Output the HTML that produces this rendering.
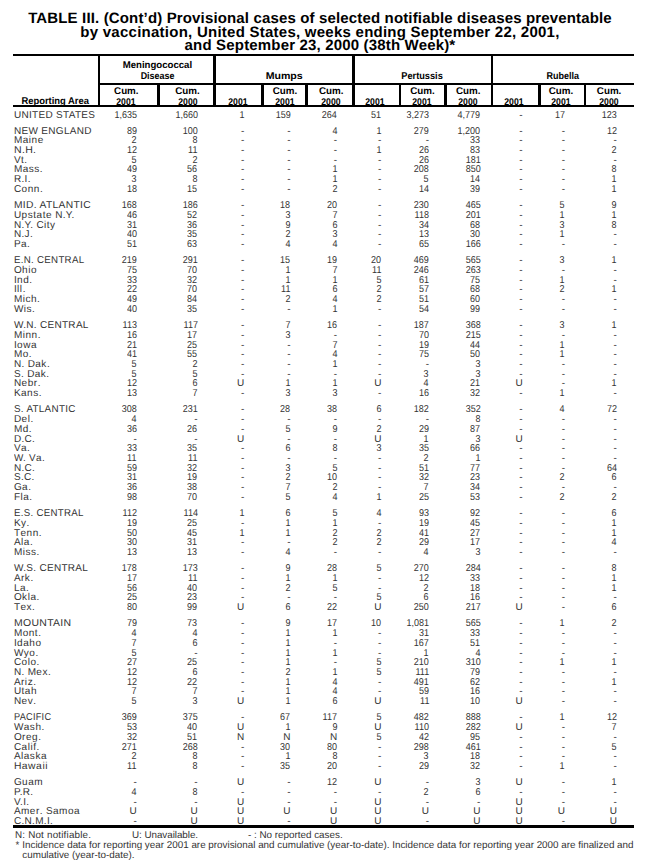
<!DOCTYPE html>
<html><head><meta charset="utf-8"><style>
html,body{margin:0;padding:0;background:#fff;}
body{width:647px;height:862px;position:relative;overflow:hidden;font-family:"Liberation Sans",sans-serif;color:#000;text-rendering:geometricPrecision;}
.t{position:absolute;white-space:nowrap;color:#333;}
.r{position:absolute;background:#000;}
.lc{letter-spacing:0.55px;}
</style></head><body>
<div class="t" style="left:0;width:640px;text-align:center;top:11px;font-size:15px;line-height:15px;font-weight:700;color:#000;letter-spacing:0.15px">TABLE III. (Cont&#8217;d) Provisional cases of selected notifiable diseases preventable</div>
<div class="t" style="left:0;width:640px;text-align:center;top:25px;font-size:15px;line-height:15px;font-weight:700;color:#000;letter-spacing:0.25px">by vaccination, United States, weeks ending September 22, 2001,</div>
<div class="t" style="left:0;width:640px;text-align:center;top:38px;font-size:15px;line-height:15px;font-weight:700;color:#000;letter-spacing:0.17px">and September 23, 2000 (38th Week)*</div>
<div class="r" style="left:13px;top:54px;width:621px;height:2px"></div>
<div class="r" style="left:99px;top:83px;width:535px;height:2px"></div>
<div class="r" style="left:13px;top:105px;width:621px;height:2px"></div>
<div class="r" style="left:98px;top:54px;width:2px;height:53px"></div>
<div class="r" style="left:157px;top:83px;width:3px;height:24px"></div>
<div class="r" style="left:213px;top:54px;width:3px;height:53px"></div>
<div class="r" style="left:261px;top:83px;width:3px;height:24px"></div>
<div class="r" style="left:305px;top:83px;width:3px;height:24px"></div>
<div class="r" style="left:352px;top:54px;width:3px;height:53px"></div>
<div class="r" style="left:399px;top:83px;width:2px;height:24px"></div>
<div class="r" style="left:444px;top:83px;width:3px;height:24px"></div>
<div class="r" style="left:491px;top:54px;width:2px;height:53px"></div>
<div class="r" style="left:538px;top:83px;width:3px;height:24px"></div>
<div class="r" style="left:584px;top:83px;width:2px;height:24px"></div>
<div class="t" style="top:97px;font-size:9.8px;line-height:9.8px;font-weight:700;color:#000;left:-94.8px;width:300px;text-align:center;"><span style="display:inline-block;transform:scaleX(0.96)">Reporting Area</span></div>
<div class="t" style="top:61px;font-size:9.8px;line-height:9.8px;font-weight:700;color:#000;left:7.199999999999989px;width:300px;text-align:center;"><span style="display:inline-block;transform:scaleX(0.98)">Meningococcal</span></div>
<div class="t" style="top:72px;font-size:9.8px;line-height:9.8px;font-weight:700;color:#000;left:7.5px;width:300px;text-align:center;"><span style="display:inline-block;transform:scaleX(0.91)">Disease</span></div>
<div class="t" style="top:72px;font-size:9.8px;line-height:9.8px;font-weight:700;color:#000;left:134.3px;width:300px;text-align:center;"><span style="display:inline-block;transform:scaleX(1.08)">Mumps</span></div>
<div class="t" style="top:72px;font-size:9.8px;line-height:9.8px;font-weight:700;color:#000;left:271.8px;width:300px;text-align:center;"><span style="display:inline-block;transform:scaleX(0.94)">Pertussis</span></div>
<div class="t" style="top:72px;font-size:9.8px;line-height:9.8px;font-weight:700;color:#000;left:412.79999999999995px;width:300px;text-align:center;"><span style="display:inline-block;transform:scaleX(0.92)">Rubella</span></div>
<div class="t" style="top:87px;font-size:9.8px;line-height:9.8px;font-weight:700;color:#000;left:-23.700000000000003px;width:300px;text-align:center;">Cum.</div>
<div class="t" style="top:98px;font-size:9.8px;line-height:9.8px;font-weight:700;color:#000;left:-23.700000000000003px;width:300px;text-align:center;"><span style="display:inline-block;transform:scaleX(0.885)">2001</span></div>
<div class="t" style="top:87px;font-size:9.8px;line-height:9.8px;font-weight:700;color:#000;left:37.5px;width:300px;text-align:center;">Cum.</div>
<div class="t" style="top:98px;font-size:9.8px;line-height:9.8px;font-weight:700;color:#000;left:37.5px;width:300px;text-align:center;"><span style="display:inline-block;transform:scaleX(0.885)">2000</span></div>
<div class="t" style="top:98px;font-size:9.8px;line-height:9.8px;font-weight:700;color:#000;left:88.1px;width:300px;text-align:center;"><span style="display:inline-block;transform:scaleX(0.885)">2001</span></div>
<div class="t" style="top:87px;font-size:9.8px;line-height:9.8px;font-weight:700;color:#000;left:135px;width:300px;text-align:center;">Cum.</div>
<div class="t" style="top:98px;font-size:9.8px;line-height:9.8px;font-weight:700;color:#000;left:135px;width:300px;text-align:center;"><span style="display:inline-block;transform:scaleX(0.885)">2001</span></div>
<div class="t" style="top:87px;font-size:9.8px;line-height:9.8px;font-weight:700;color:#000;left:181.3px;width:300px;text-align:center;">Cum.</div>
<div class="t" style="top:98px;font-size:9.8px;line-height:9.8px;font-weight:700;color:#000;left:181.3px;width:300px;text-align:center;"><span style="display:inline-block;transform:scaleX(0.885)">2000</span></div>
<div class="t" style="top:98px;font-size:9.8px;line-height:9.8px;font-weight:700;color:#000;left:224.8px;width:300px;text-align:center;"><span style="display:inline-block;transform:scaleX(0.885)">2001</span></div>
<div class="t" style="top:87px;font-size:9.8px;line-height:9.8px;font-weight:700;color:#000;left:272.4px;width:300px;text-align:center;">Cum.</div>
<div class="t" style="top:98px;font-size:9.8px;line-height:9.8px;font-weight:700;color:#000;left:272.4px;width:300px;text-align:center;"><span style="display:inline-block;transform:scaleX(0.885)">2001</span></div>
<div class="t" style="top:87px;font-size:9.8px;line-height:9.8px;font-weight:700;color:#000;left:318.2px;width:300px;text-align:center;">Cum.</div>
<div class="t" style="top:98px;font-size:9.8px;line-height:9.8px;font-weight:700;color:#000;left:318.2px;width:300px;text-align:center;"><span style="display:inline-block;transform:scaleX(0.885)">2000</span></div>
<div class="t" style="top:98px;font-size:9.8px;line-height:9.8px;font-weight:700;color:#000;left:364px;width:300px;text-align:center;"><span style="display:inline-block;transform:scaleX(0.885)">2001</span></div>
<div class="t" style="top:87px;font-size:9.8px;line-height:9.8px;font-weight:700;color:#000;left:411px;width:300px;text-align:center;">Cum.</div>
<div class="t" style="top:98px;font-size:9.8px;line-height:9.8px;font-weight:700;color:#000;left:411px;width:300px;text-align:center;"><span style="display:inline-block;transform:scaleX(0.885)">2001</span></div>
<div class="t" style="top:87px;font-size:9.8px;line-height:9.8px;font-weight:700;color:#000;left:459.1px;width:300px;text-align:center;">Cum.</div>
<div class="t" style="top:98px;font-size:9.8px;line-height:9.8px;font-weight:700;color:#000;left:459.1px;width:300px;text-align:center;"><span style="display:inline-block;transform:scaleX(0.885)">2000</span></div>
<div class="t" style="top:111px;font-size:10px;line-height:10px;letter-spacing:0.3px;left:14px;">UNITED STATES</div>
<div class="t" style="top:111px;font-size:10px;line-height:10px;right:510.2px;transform:scaleX(0.9);transform-origin:100% 0;">1,635</div>
<div class="t" style="top:111px;font-size:10px;line-height:10px;right:449.4px;transform:scaleX(0.9);transform-origin:100% 0;">1,660</div>
<div class="t" style="top:111px;font-size:10px;line-height:10px;right:402.7px;transform:scaleX(0.9);transform-origin:100% 0;">1</div>
<div class="t" style="top:111px;font-size:10px;line-height:10px;right:356.5px;transform:scaleX(0.9);transform-origin:100% 0;">159</div>
<div class="t" style="top:111px;font-size:10px;line-height:10px;right:309.9px;transform:scaleX(0.9);transform-origin:100% 0;">264</div>
<div class="t" style="top:111px;font-size:10px;line-height:10px;right:265.6px;transform:scaleX(0.9);transform-origin:100% 0;">51</div>
<div class="t" style="top:111px;font-size:10px;line-height:10px;right:218.0px;transform:scaleX(0.9);transform-origin:100% 0;">3,273</div>
<div class="t" style="top:111px;font-size:10px;line-height:10px;right:166.60000000000002px;transform:scaleX(0.9);transform-origin:100% 0;">4,779</div>
<div class="t" style="top:111px;font-size:10px;line-height:10px;right:124.39999999999998px;">-</div>
<div class="t" style="top:111px;font-size:10px;line-height:10px;right:82.0px;transform:scaleX(0.9);transform-origin:100% 0;">17</div>
<div class="t" style="top:111px;font-size:10px;line-height:10px;right:30.100000000000023px;transform:scaleX(0.9);transform-origin:100% 0;">123</div>
<div class="t" style="top:127px;font-size:10px;line-height:10px;letter-spacing:0.3px;left:14px;">NEW ENGLAND</div>
<div class="t" style="top:127px;font-size:10px;line-height:10px;right:510.2px;transform:scaleX(0.9);transform-origin:100% 0;">89</div>
<div class="t" style="top:127px;font-size:10px;line-height:10px;right:449.4px;transform:scaleX(0.9);transform-origin:100% 0;">100</div>
<div class="t" style="top:127px;font-size:10px;line-height:10px;right:402.7px;">-</div>
<div class="t" style="top:127px;font-size:10px;line-height:10px;right:356.5px;">-</div>
<div class="t" style="top:127px;font-size:10px;line-height:10px;right:309.9px;transform:scaleX(0.9);transform-origin:100% 0;">4</div>
<div class="t" style="top:127px;font-size:10px;line-height:10px;right:265.6px;transform:scaleX(0.9);transform-origin:100% 0;">1</div>
<div class="t" style="top:127px;font-size:10px;line-height:10px;right:218.0px;transform:scaleX(0.9);transform-origin:100% 0;">279</div>
<div class="t" style="top:127px;font-size:10px;line-height:10px;right:166.60000000000002px;transform:scaleX(0.9);transform-origin:100% 0;">1,200</div>
<div class="t" style="top:127px;font-size:10px;line-height:10px;right:124.39999999999998px;">-</div>
<div class="t" style="top:127px;font-size:10px;line-height:10px;right:82.0px;">-</div>
<div class="t" style="top:127px;font-size:10px;line-height:10px;right:30.100000000000023px;transform:scaleX(0.9);transform-origin:100% 0;">12</div>
<div class="t" style="top:136px;font-size:10px;line-height:10px;letter-spacing:0.3px;left:14px;">M<span class="lc">aine</span></div>
<div class="t" style="top:136px;font-size:10px;line-height:10px;right:510.2px;transform:scaleX(0.9);transform-origin:100% 0;">2</div>
<div class="t" style="top:136px;font-size:10px;line-height:10px;right:449.4px;transform:scaleX(0.9);transform-origin:100% 0;">8</div>
<div class="t" style="top:136px;font-size:10px;line-height:10px;right:402.7px;">-</div>
<div class="t" style="top:136px;font-size:10px;line-height:10px;right:356.5px;">-</div>
<div class="t" style="top:136px;font-size:10px;line-height:10px;right:309.9px;">-</div>
<div class="t" style="top:136px;font-size:10px;line-height:10px;right:265.6px;">-</div>
<div class="t" style="top:136px;font-size:10px;line-height:10px;right:218.0px;">-</div>
<div class="t" style="top:136px;font-size:10px;line-height:10px;right:166.60000000000002px;transform:scaleX(0.9);transform-origin:100% 0;">33</div>
<div class="t" style="top:136px;font-size:10px;line-height:10px;right:124.39999999999998px;">-</div>
<div class="t" style="top:136px;font-size:10px;line-height:10px;right:82.0px;">-</div>
<div class="t" style="top:136px;font-size:10px;line-height:10px;right:30.100000000000023px;">-</div>
<div class="t" style="top:146px;font-size:10px;line-height:10px;letter-spacing:0.3px;left:14px;transform:scaleX(1.0541);transform-origin:0 0;">N.H.</div>
<div class="t" style="top:146px;font-size:10px;line-height:10px;right:510.2px;transform:scaleX(0.9);transform-origin:100% 0;">12</div>
<div class="t" style="top:146px;font-size:10px;line-height:10px;right:449.4px;transform:scaleX(0.9);transform-origin:100% 0;">11</div>
<div class="t" style="top:146px;font-size:10px;line-height:10px;right:402.7px;">-</div>
<div class="t" style="top:146px;font-size:10px;line-height:10px;right:356.5px;">-</div>
<div class="t" style="top:146px;font-size:10px;line-height:10px;right:309.9px;">-</div>
<div class="t" style="top:146px;font-size:10px;line-height:10px;right:265.6px;transform:scaleX(0.9);transform-origin:100% 0;">1</div>
<div class="t" style="top:146px;font-size:10px;line-height:10px;right:218.0px;transform:scaleX(0.9);transform-origin:100% 0;">26</div>
<div class="t" style="top:146px;font-size:10px;line-height:10px;right:166.60000000000002px;transform:scaleX(0.9);transform-origin:100% 0;">83</div>
<div class="t" style="top:146px;font-size:10px;line-height:10px;right:124.39999999999998px;">-</div>
<div class="t" style="top:146px;font-size:10px;line-height:10px;right:82.0px;">-</div>
<div class="t" style="top:146px;font-size:10px;line-height:10px;right:30.100000000000023px;transform:scaleX(0.9);transform-origin:100% 0;">2</div>
<div class="t" style="top:156px;font-size:10px;line-height:10px;letter-spacing:0.3px;left:14px;">V<span class="lc">t</span>.</div>
<div class="t" style="top:156px;font-size:10px;line-height:10px;right:510.2px;transform:scaleX(0.9);transform-origin:100% 0;">5</div>
<div class="t" style="top:156px;font-size:10px;line-height:10px;right:449.4px;transform:scaleX(0.9);transform-origin:100% 0;">2</div>
<div class="t" style="top:156px;font-size:10px;line-height:10px;right:402.7px;">-</div>
<div class="t" style="top:156px;font-size:10px;line-height:10px;right:356.5px;">-</div>
<div class="t" style="top:156px;font-size:10px;line-height:10px;right:309.9px;">-</div>
<div class="t" style="top:156px;font-size:10px;line-height:10px;right:265.6px;">-</div>
<div class="t" style="top:156px;font-size:10px;line-height:10px;right:218.0px;transform:scaleX(0.9);transform-origin:100% 0;">26</div>
<div class="t" style="top:156px;font-size:10px;line-height:10px;right:166.60000000000002px;transform:scaleX(0.9);transform-origin:100% 0;">181</div>
<div class="t" style="top:156px;font-size:10px;line-height:10px;right:124.39999999999998px;">-</div>
<div class="t" style="top:156px;font-size:10px;line-height:10px;right:82.0px;">-</div>
<div class="t" style="top:156px;font-size:10px;line-height:10px;right:30.100000000000023px;">-</div>
<div class="t" style="top:165px;font-size:10px;line-height:10px;letter-spacing:0.3px;left:14px;">M<span class="lc">ass</span>.</div>
<div class="t" style="top:165px;font-size:10px;line-height:10px;right:510.2px;transform:scaleX(0.9);transform-origin:100% 0;">49</div>
<div class="t" style="top:165px;font-size:10px;line-height:10px;right:449.4px;transform:scaleX(0.9);transform-origin:100% 0;">56</div>
<div class="t" style="top:165px;font-size:10px;line-height:10px;right:402.7px;">-</div>
<div class="t" style="top:165px;font-size:10px;line-height:10px;right:356.5px;">-</div>
<div class="t" style="top:165px;font-size:10px;line-height:10px;right:309.9px;transform:scaleX(0.9);transform-origin:100% 0;">1</div>
<div class="t" style="top:165px;font-size:10px;line-height:10px;right:265.6px;">-</div>
<div class="t" style="top:165px;font-size:10px;line-height:10px;right:218.0px;transform:scaleX(0.9);transform-origin:100% 0;">208</div>
<div class="t" style="top:165px;font-size:10px;line-height:10px;right:166.60000000000002px;transform:scaleX(0.9);transform-origin:100% 0;">850</div>
<div class="t" style="top:165px;font-size:10px;line-height:10px;right:124.39999999999998px;">-</div>
<div class="t" style="top:165px;font-size:10px;line-height:10px;right:82.0px;">-</div>
<div class="t" style="top:165px;font-size:10px;line-height:10px;right:30.100000000000023px;transform:scaleX(0.9);transform-origin:100% 0;">8</div>
<div class="t" style="top:175px;font-size:10px;line-height:10px;letter-spacing:0.3px;left:14px;">R.I.</div>
<div class="t" style="top:175px;font-size:10px;line-height:10px;right:510.2px;transform:scaleX(0.9);transform-origin:100% 0;">3</div>
<div class="t" style="top:175px;font-size:10px;line-height:10px;right:449.4px;transform:scaleX(0.9);transform-origin:100% 0;">8</div>
<div class="t" style="top:175px;font-size:10px;line-height:10px;right:402.7px;">-</div>
<div class="t" style="top:175px;font-size:10px;line-height:10px;right:356.5px;">-</div>
<div class="t" style="top:175px;font-size:10px;line-height:10px;right:309.9px;transform:scaleX(0.9);transform-origin:100% 0;">1</div>
<div class="t" style="top:175px;font-size:10px;line-height:10px;right:265.6px;">-</div>
<div class="t" style="top:175px;font-size:10px;line-height:10px;right:218.0px;transform:scaleX(0.9);transform-origin:100% 0;">5</div>
<div class="t" style="top:175px;font-size:10px;line-height:10px;right:166.60000000000002px;transform:scaleX(0.9);transform-origin:100% 0;">14</div>
<div class="t" style="top:175px;font-size:10px;line-height:10px;right:124.39999999999998px;">-</div>
<div class="t" style="top:175px;font-size:10px;line-height:10px;right:82.0px;">-</div>
<div class="t" style="top:175px;font-size:10px;line-height:10px;right:30.100000000000023px;transform:scaleX(0.9);transform-origin:100% 0;">1</div>
<div class="t" style="top:185px;font-size:10px;line-height:10px;letter-spacing:0.3px;left:14px;">C<span class="lc">onn</span>.</div>
<div class="t" style="top:185px;font-size:10px;line-height:10px;right:510.2px;transform:scaleX(0.9);transform-origin:100% 0;">18</div>
<div class="t" style="top:185px;font-size:10px;line-height:10px;right:449.4px;transform:scaleX(0.9);transform-origin:100% 0;">15</div>
<div class="t" style="top:185px;font-size:10px;line-height:10px;right:402.7px;">-</div>
<div class="t" style="top:185px;font-size:10px;line-height:10px;right:356.5px;">-</div>
<div class="t" style="top:185px;font-size:10px;line-height:10px;right:309.9px;transform:scaleX(0.9);transform-origin:100% 0;">2</div>
<div class="t" style="top:185px;font-size:10px;line-height:10px;right:265.6px;">-</div>
<div class="t" style="top:185px;font-size:10px;line-height:10px;right:218.0px;transform:scaleX(0.9);transform-origin:100% 0;">14</div>
<div class="t" style="top:185px;font-size:10px;line-height:10px;right:166.60000000000002px;transform:scaleX(0.9);transform-origin:100% 0;">39</div>
<div class="t" style="top:185px;font-size:10px;line-height:10px;right:124.39999999999998px;">-</div>
<div class="t" style="top:185px;font-size:10px;line-height:10px;right:82.0px;">-</div>
<div class="t" style="top:185px;font-size:10px;line-height:10px;right:30.100000000000023px;transform:scaleX(0.9);transform-origin:100% 0;">1</div>
<div class="t" style="top:201px;font-size:10px;line-height:10px;letter-spacing:0.3px;left:14px;transform:scaleX(1.0276);transform-origin:0 0;">MID. ATLANTIC</div>
<div class="t" style="top:201px;font-size:10px;line-height:10px;right:510.2px;transform:scaleX(0.9);transform-origin:100% 0;">168</div>
<div class="t" style="top:201px;font-size:10px;line-height:10px;right:449.4px;transform:scaleX(0.9);transform-origin:100% 0;">186</div>
<div class="t" style="top:201px;font-size:10px;line-height:10px;right:402.7px;">-</div>
<div class="t" style="top:201px;font-size:10px;line-height:10px;right:356.5px;transform:scaleX(0.9);transform-origin:100% 0;">18</div>
<div class="t" style="top:201px;font-size:10px;line-height:10px;right:309.9px;transform:scaleX(0.9);transform-origin:100% 0;">20</div>
<div class="t" style="top:201px;font-size:10px;line-height:10px;right:265.6px;">-</div>
<div class="t" style="top:201px;font-size:10px;line-height:10px;right:218.0px;transform:scaleX(0.9);transform-origin:100% 0;">230</div>
<div class="t" style="top:201px;font-size:10px;line-height:10px;right:166.60000000000002px;transform:scaleX(0.9);transform-origin:100% 0;">465</div>
<div class="t" style="top:201px;font-size:10px;line-height:10px;right:124.39999999999998px;">-</div>
<div class="t" style="top:201px;font-size:10px;line-height:10px;right:82.0px;transform:scaleX(0.9);transform-origin:100% 0;">5</div>
<div class="t" style="top:201px;font-size:10px;line-height:10px;right:30.100000000000023px;transform:scaleX(0.9);transform-origin:100% 0;">9</div>
<div class="t" style="top:211px;font-size:10px;line-height:10px;letter-spacing:0.3px;left:14px;">U<span class="lc">pstate</span> N.Y.</div>
<div class="t" style="top:211px;font-size:10px;line-height:10px;right:510.2px;transform:scaleX(0.9);transform-origin:100% 0;">46</div>
<div class="t" style="top:211px;font-size:10px;line-height:10px;right:449.4px;transform:scaleX(0.9);transform-origin:100% 0;">52</div>
<div class="t" style="top:211px;font-size:10px;line-height:10px;right:402.7px;">-</div>
<div class="t" style="top:211px;font-size:10px;line-height:10px;right:356.5px;transform:scaleX(0.9);transform-origin:100% 0;">3</div>
<div class="t" style="top:211px;font-size:10px;line-height:10px;right:309.9px;transform:scaleX(0.9);transform-origin:100% 0;">7</div>
<div class="t" style="top:211px;font-size:10px;line-height:10px;right:265.6px;">-</div>
<div class="t" style="top:211px;font-size:10px;line-height:10px;right:218.0px;transform:scaleX(0.9);transform-origin:100% 0;">118</div>
<div class="t" style="top:211px;font-size:10px;line-height:10px;right:166.60000000000002px;transform:scaleX(0.9);transform-origin:100% 0;">201</div>
<div class="t" style="top:211px;font-size:10px;line-height:10px;right:124.39999999999998px;">-</div>
<div class="t" style="top:211px;font-size:10px;line-height:10px;right:82.0px;transform:scaleX(0.9);transform-origin:100% 0;">1</div>
<div class="t" style="top:211px;font-size:10px;line-height:10px;right:30.100000000000023px;transform:scaleX(0.9);transform-origin:100% 0;">1</div>
<div class="t" style="top:221px;font-size:10px;line-height:10px;letter-spacing:0.3px;left:14px;">N.Y. C<span class="lc">ity</span></div>
<div class="t" style="top:221px;font-size:10px;line-height:10px;right:510.2px;transform:scaleX(0.9);transform-origin:100% 0;">31</div>
<div class="t" style="top:221px;font-size:10px;line-height:10px;right:449.4px;transform:scaleX(0.9);transform-origin:100% 0;">36</div>
<div class="t" style="top:221px;font-size:10px;line-height:10px;right:402.7px;">-</div>
<div class="t" style="top:221px;font-size:10px;line-height:10px;right:356.5px;transform:scaleX(0.9);transform-origin:100% 0;">9</div>
<div class="t" style="top:221px;font-size:10px;line-height:10px;right:309.9px;transform:scaleX(0.9);transform-origin:100% 0;">6</div>
<div class="t" style="top:221px;font-size:10px;line-height:10px;right:265.6px;">-</div>
<div class="t" style="top:221px;font-size:10px;line-height:10px;right:218.0px;transform:scaleX(0.9);transform-origin:100% 0;">34</div>
<div class="t" style="top:221px;font-size:10px;line-height:10px;right:166.60000000000002px;transform:scaleX(0.9);transform-origin:100% 0;">68</div>
<div class="t" style="top:221px;font-size:10px;line-height:10px;right:124.39999999999998px;">-</div>
<div class="t" style="top:221px;font-size:10px;line-height:10px;right:82.0px;transform:scaleX(0.9);transform-origin:100% 0;">3</div>
<div class="t" style="top:221px;font-size:10px;line-height:10px;right:30.100000000000023px;transform:scaleX(0.9);transform-origin:100% 0;">8</div>
<div class="t" style="top:230px;font-size:10px;line-height:10px;letter-spacing:0.3px;left:14px;">N.J.</div>
<div class="t" style="top:230px;font-size:10px;line-height:10px;right:510.2px;transform:scaleX(0.9);transform-origin:100% 0;">40</div>
<div class="t" style="top:230px;font-size:10px;line-height:10px;right:449.4px;transform:scaleX(0.9);transform-origin:100% 0;">35</div>
<div class="t" style="top:230px;font-size:10px;line-height:10px;right:402.7px;">-</div>
<div class="t" style="top:230px;font-size:10px;line-height:10px;right:356.5px;transform:scaleX(0.9);transform-origin:100% 0;">2</div>
<div class="t" style="top:230px;font-size:10px;line-height:10px;right:309.9px;transform:scaleX(0.9);transform-origin:100% 0;">3</div>
<div class="t" style="top:230px;font-size:10px;line-height:10px;right:265.6px;">-</div>
<div class="t" style="top:230px;font-size:10px;line-height:10px;right:218.0px;transform:scaleX(0.9);transform-origin:100% 0;">13</div>
<div class="t" style="top:230px;font-size:10px;line-height:10px;right:166.60000000000002px;transform:scaleX(0.9);transform-origin:100% 0;">30</div>
<div class="t" style="top:230px;font-size:10px;line-height:10px;right:124.39999999999998px;">-</div>
<div class="t" style="top:230px;font-size:10px;line-height:10px;right:82.0px;transform:scaleX(0.9);transform-origin:100% 0;">1</div>
<div class="t" style="top:230px;font-size:10px;line-height:10px;right:30.100000000000023px;">-</div>
<div class="t" style="top:240px;font-size:10px;line-height:10px;letter-spacing:0.3px;left:14px;">P<span class="lc">a</span>.</div>
<div class="t" style="top:240px;font-size:10px;line-height:10px;right:510.2px;transform:scaleX(0.9);transform-origin:100% 0;">51</div>
<div class="t" style="top:240px;font-size:10px;line-height:10px;right:449.4px;transform:scaleX(0.9);transform-origin:100% 0;">63</div>
<div class="t" style="top:240px;font-size:10px;line-height:10px;right:402.7px;">-</div>
<div class="t" style="top:240px;font-size:10px;line-height:10px;right:356.5px;transform:scaleX(0.9);transform-origin:100% 0;">4</div>
<div class="t" style="top:240px;font-size:10px;line-height:10px;right:309.9px;transform:scaleX(0.9);transform-origin:100% 0;">4</div>
<div class="t" style="top:240px;font-size:10px;line-height:10px;right:265.6px;">-</div>
<div class="t" style="top:240px;font-size:10px;line-height:10px;right:218.0px;transform:scaleX(0.9);transform-origin:100% 0;">65</div>
<div class="t" style="top:240px;font-size:10px;line-height:10px;right:166.60000000000002px;transform:scaleX(0.9);transform-origin:100% 0;">166</div>
<div class="t" style="top:240px;font-size:10px;line-height:10px;right:124.39999999999998px;">-</div>
<div class="t" style="top:240px;font-size:10px;line-height:10px;right:82.0px;">-</div>
<div class="t" style="top:240px;font-size:10px;line-height:10px;right:30.100000000000023px;">-</div>
<div class="t" style="top:256px;font-size:10px;line-height:10px;letter-spacing:0.3px;left:14px;transform:scaleX(0.9702);transform-origin:0 0;">E.N. CENTRAL</div>
<div class="t" style="top:256px;font-size:10px;line-height:10px;right:510.2px;transform:scaleX(0.9);transform-origin:100% 0;">219</div>
<div class="t" style="top:256px;font-size:10px;line-height:10px;right:449.4px;transform:scaleX(0.9);transform-origin:100% 0;">291</div>
<div class="t" style="top:256px;font-size:10px;line-height:10px;right:402.7px;">-</div>
<div class="t" style="top:256px;font-size:10px;line-height:10px;right:356.5px;transform:scaleX(0.9);transform-origin:100% 0;">15</div>
<div class="t" style="top:256px;font-size:10px;line-height:10px;right:309.9px;transform:scaleX(0.9);transform-origin:100% 0;">19</div>
<div class="t" style="top:256px;font-size:10px;line-height:10px;right:265.6px;transform:scaleX(0.9);transform-origin:100% 0;">20</div>
<div class="t" style="top:256px;font-size:10px;line-height:10px;right:218.0px;transform:scaleX(0.9);transform-origin:100% 0;">469</div>
<div class="t" style="top:256px;font-size:10px;line-height:10px;right:166.60000000000002px;transform:scaleX(0.9);transform-origin:100% 0;">565</div>
<div class="t" style="top:256px;font-size:10px;line-height:10px;right:124.39999999999998px;">-</div>
<div class="t" style="top:256px;font-size:10px;line-height:10px;right:82.0px;transform:scaleX(0.9);transform-origin:100% 0;">3</div>
<div class="t" style="top:256px;font-size:10px;line-height:10px;right:30.100000000000023px;transform:scaleX(0.9);transform-origin:100% 0;">1</div>
<div class="t" style="top:266px;font-size:10px;line-height:10px;letter-spacing:0.3px;left:14px;">O<span class="lc">hio</span></div>
<div class="t" style="top:266px;font-size:10px;line-height:10px;right:510.2px;transform:scaleX(0.9);transform-origin:100% 0;">75</div>
<div class="t" style="top:266px;font-size:10px;line-height:10px;right:449.4px;transform:scaleX(0.9);transform-origin:100% 0;">70</div>
<div class="t" style="top:266px;font-size:10px;line-height:10px;right:402.7px;">-</div>
<div class="t" style="top:266px;font-size:10px;line-height:10px;right:356.5px;transform:scaleX(0.9);transform-origin:100% 0;">1</div>
<div class="t" style="top:266px;font-size:10px;line-height:10px;right:309.9px;transform:scaleX(0.9);transform-origin:100% 0;">7</div>
<div class="t" style="top:266px;font-size:10px;line-height:10px;right:265.6px;transform:scaleX(0.9);transform-origin:100% 0;">11</div>
<div class="t" style="top:266px;font-size:10px;line-height:10px;right:218.0px;transform:scaleX(0.9);transform-origin:100% 0;">246</div>
<div class="t" style="top:266px;font-size:10px;line-height:10px;right:166.60000000000002px;transform:scaleX(0.9);transform-origin:100% 0;">263</div>
<div class="t" style="top:266px;font-size:10px;line-height:10px;right:124.39999999999998px;">-</div>
<div class="t" style="top:266px;font-size:10px;line-height:10px;right:82.0px;">-</div>
<div class="t" style="top:266px;font-size:10px;line-height:10px;right:30.100000000000023px;">-</div>
<div class="t" style="top:276px;font-size:10px;line-height:10px;letter-spacing:0.3px;left:14px;">I<span class="lc">nd</span>.</div>
<div class="t" style="top:276px;font-size:10px;line-height:10px;right:510.2px;transform:scaleX(0.9);transform-origin:100% 0;">33</div>
<div class="t" style="top:276px;font-size:10px;line-height:10px;right:449.4px;transform:scaleX(0.9);transform-origin:100% 0;">32</div>
<div class="t" style="top:276px;font-size:10px;line-height:10px;right:402.7px;">-</div>
<div class="t" style="top:276px;font-size:10px;line-height:10px;right:356.5px;transform:scaleX(0.9);transform-origin:100% 0;">1</div>
<div class="t" style="top:276px;font-size:10px;line-height:10px;right:309.9px;transform:scaleX(0.9);transform-origin:100% 0;">1</div>
<div class="t" style="top:276px;font-size:10px;line-height:10px;right:265.6px;transform:scaleX(0.9);transform-origin:100% 0;">5</div>
<div class="t" style="top:276px;font-size:10px;line-height:10px;right:218.0px;transform:scaleX(0.9);transform-origin:100% 0;">61</div>
<div class="t" style="top:276px;font-size:10px;line-height:10px;right:166.60000000000002px;transform:scaleX(0.9);transform-origin:100% 0;">75</div>
<div class="t" style="top:276px;font-size:10px;line-height:10px;right:124.39999999999998px;">-</div>
<div class="t" style="top:276px;font-size:10px;line-height:10px;right:82.0px;transform:scaleX(0.9);transform-origin:100% 0;">1</div>
<div class="t" style="top:276px;font-size:10px;line-height:10px;right:30.100000000000023px;">-</div>
<div class="t" style="top:285px;font-size:10px;line-height:10px;letter-spacing:0.3px;left:14px;">I<span class="lc">ll</span>.</div>
<div class="t" style="top:285px;font-size:10px;line-height:10px;right:510.2px;transform:scaleX(0.9);transform-origin:100% 0;">22</div>
<div class="t" style="top:285px;font-size:10px;line-height:10px;right:449.4px;transform:scaleX(0.9);transform-origin:100% 0;">70</div>
<div class="t" style="top:285px;font-size:10px;line-height:10px;right:402.7px;">-</div>
<div class="t" style="top:285px;font-size:10px;line-height:10px;right:356.5px;transform:scaleX(0.9);transform-origin:100% 0;">11</div>
<div class="t" style="top:285px;font-size:10px;line-height:10px;right:309.9px;transform:scaleX(0.9);transform-origin:100% 0;">6</div>
<div class="t" style="top:285px;font-size:10px;line-height:10px;right:265.6px;transform:scaleX(0.9);transform-origin:100% 0;">2</div>
<div class="t" style="top:285px;font-size:10px;line-height:10px;right:218.0px;transform:scaleX(0.9);transform-origin:100% 0;">57</div>
<div class="t" style="top:285px;font-size:10px;line-height:10px;right:166.60000000000002px;transform:scaleX(0.9);transform-origin:100% 0;">68</div>
<div class="t" style="top:285px;font-size:10px;line-height:10px;right:124.39999999999998px;">-</div>
<div class="t" style="top:285px;font-size:10px;line-height:10px;right:82.0px;transform:scaleX(0.9);transform-origin:100% 0;">2</div>
<div class="t" style="top:285px;font-size:10px;line-height:10px;right:30.100000000000023px;transform:scaleX(0.9);transform-origin:100% 0;">1</div>
<div class="t" style="top:295px;font-size:10px;line-height:10px;letter-spacing:0.3px;left:14px;">M<span class="lc">ich</span>.</div>
<div class="t" style="top:295px;font-size:10px;line-height:10px;right:510.2px;transform:scaleX(0.9);transform-origin:100% 0;">49</div>
<div class="t" style="top:295px;font-size:10px;line-height:10px;right:449.4px;transform:scaleX(0.9);transform-origin:100% 0;">84</div>
<div class="t" style="top:295px;font-size:10px;line-height:10px;right:402.7px;">-</div>
<div class="t" style="top:295px;font-size:10px;line-height:10px;right:356.5px;transform:scaleX(0.9);transform-origin:100% 0;">2</div>
<div class="t" style="top:295px;font-size:10px;line-height:10px;right:309.9px;transform:scaleX(0.9);transform-origin:100% 0;">4</div>
<div class="t" style="top:295px;font-size:10px;line-height:10px;right:265.6px;transform:scaleX(0.9);transform-origin:100% 0;">2</div>
<div class="t" style="top:295px;font-size:10px;line-height:10px;right:218.0px;transform:scaleX(0.9);transform-origin:100% 0;">51</div>
<div class="t" style="top:295px;font-size:10px;line-height:10px;right:166.60000000000002px;transform:scaleX(0.9);transform-origin:100% 0;">60</div>
<div class="t" style="top:295px;font-size:10px;line-height:10px;right:124.39999999999998px;">-</div>
<div class="t" style="top:295px;font-size:10px;line-height:10px;right:82.0px;">-</div>
<div class="t" style="top:295px;font-size:10px;line-height:10px;right:30.100000000000023px;">-</div>
<div class="t" style="top:305px;font-size:10px;line-height:10px;letter-spacing:0.3px;left:14px;">W<span class="lc">is</span>.</div>
<div class="t" style="top:305px;font-size:10px;line-height:10px;right:510.2px;transform:scaleX(0.9);transform-origin:100% 0;">40</div>
<div class="t" style="top:305px;font-size:10px;line-height:10px;right:449.4px;transform:scaleX(0.9);transform-origin:100% 0;">35</div>
<div class="t" style="top:305px;font-size:10px;line-height:10px;right:402.7px;">-</div>
<div class="t" style="top:305px;font-size:10px;line-height:10px;right:356.5px;">-</div>
<div class="t" style="top:305px;font-size:10px;line-height:10px;right:309.9px;transform:scaleX(0.9);transform-origin:100% 0;">1</div>
<div class="t" style="top:305px;font-size:10px;line-height:10px;right:265.6px;">-</div>
<div class="t" style="top:305px;font-size:10px;line-height:10px;right:218.0px;transform:scaleX(0.9);transform-origin:100% 0;">54</div>
<div class="t" style="top:305px;font-size:10px;line-height:10px;right:166.60000000000002px;transform:scaleX(0.9);transform-origin:100% 0;">99</div>
<div class="t" style="top:305px;font-size:10px;line-height:10px;right:124.39999999999998px;">-</div>
<div class="t" style="top:305px;font-size:10px;line-height:10px;right:82.0px;">-</div>
<div class="t" style="top:305px;font-size:10px;line-height:10px;right:30.100000000000023px;">-</div>
<div class="t" style="top:321px;font-size:10px;line-height:10px;letter-spacing:0.3px;left:14px;">W.N. CENTRAL</div>
<div class="t" style="top:321px;font-size:10px;line-height:10px;right:510.2px;transform:scaleX(0.9);transform-origin:100% 0;">113</div>
<div class="t" style="top:321px;font-size:10px;line-height:10px;right:449.4px;transform:scaleX(0.9);transform-origin:100% 0;">117</div>
<div class="t" style="top:321px;font-size:10px;line-height:10px;right:402.7px;">-</div>
<div class="t" style="top:321px;font-size:10px;line-height:10px;right:356.5px;transform:scaleX(0.9);transform-origin:100% 0;">7</div>
<div class="t" style="top:321px;font-size:10px;line-height:10px;right:309.9px;transform:scaleX(0.9);transform-origin:100% 0;">16</div>
<div class="t" style="top:321px;font-size:10px;line-height:10px;right:265.6px;">-</div>
<div class="t" style="top:321px;font-size:10px;line-height:10px;right:218.0px;transform:scaleX(0.9);transform-origin:100% 0;">187</div>
<div class="t" style="top:321px;font-size:10px;line-height:10px;right:166.60000000000002px;transform:scaleX(0.9);transform-origin:100% 0;">368</div>
<div class="t" style="top:321px;font-size:10px;line-height:10px;right:124.39999999999998px;">-</div>
<div class="t" style="top:321px;font-size:10px;line-height:10px;right:82.0px;transform:scaleX(0.9);transform-origin:100% 0;">3</div>
<div class="t" style="top:321px;font-size:10px;line-height:10px;right:30.100000000000023px;transform:scaleX(0.9);transform-origin:100% 0;">1</div>
<div class="t" style="top:331px;font-size:10px;line-height:10px;letter-spacing:0.3px;left:14px;">M<span class="lc">inn</span>.</div>
<div class="t" style="top:331px;font-size:10px;line-height:10px;right:510.2px;transform:scaleX(0.9);transform-origin:100% 0;">16</div>
<div class="t" style="top:331px;font-size:10px;line-height:10px;right:449.4px;transform:scaleX(0.9);transform-origin:100% 0;">17</div>
<div class="t" style="top:331px;font-size:10px;line-height:10px;right:402.7px;">-</div>
<div class="t" style="top:331px;font-size:10px;line-height:10px;right:356.5px;transform:scaleX(0.9);transform-origin:100% 0;">3</div>
<div class="t" style="top:331px;font-size:10px;line-height:10px;right:309.9px;">-</div>
<div class="t" style="top:331px;font-size:10px;line-height:10px;right:265.6px;">-</div>
<div class="t" style="top:331px;font-size:10px;line-height:10px;right:218.0px;transform:scaleX(0.9);transform-origin:100% 0;">70</div>
<div class="t" style="top:331px;font-size:10px;line-height:10px;right:166.60000000000002px;transform:scaleX(0.9);transform-origin:100% 0;">215</div>
<div class="t" style="top:331px;font-size:10px;line-height:10px;right:124.39999999999998px;">-</div>
<div class="t" style="top:331px;font-size:10px;line-height:10px;right:82.0px;">-</div>
<div class="t" style="top:331px;font-size:10px;line-height:10px;right:30.100000000000023px;">-</div>
<div class="t" style="top:341px;font-size:10px;line-height:10px;letter-spacing:0.3px;left:14px;">I<span class="lc">owa</span></div>
<div class="t" style="top:341px;font-size:10px;line-height:10px;right:510.2px;transform:scaleX(0.9);transform-origin:100% 0;">21</div>
<div class="t" style="top:341px;font-size:10px;line-height:10px;right:449.4px;transform:scaleX(0.9);transform-origin:100% 0;">25</div>
<div class="t" style="top:341px;font-size:10px;line-height:10px;right:402.7px;">-</div>
<div class="t" style="top:341px;font-size:10px;line-height:10px;right:356.5px;">-</div>
<div class="t" style="top:341px;font-size:10px;line-height:10px;right:309.9px;transform:scaleX(0.9);transform-origin:100% 0;">7</div>
<div class="t" style="top:341px;font-size:10px;line-height:10px;right:265.6px;">-</div>
<div class="t" style="top:341px;font-size:10px;line-height:10px;right:218.0px;transform:scaleX(0.9);transform-origin:100% 0;">19</div>
<div class="t" style="top:341px;font-size:10px;line-height:10px;right:166.60000000000002px;transform:scaleX(0.9);transform-origin:100% 0;">44</div>
<div class="t" style="top:341px;font-size:10px;line-height:10px;right:124.39999999999998px;">-</div>
<div class="t" style="top:341px;font-size:10px;line-height:10px;right:82.0px;transform:scaleX(0.9);transform-origin:100% 0;">1</div>
<div class="t" style="top:341px;font-size:10px;line-height:10px;right:30.100000000000023px;">-</div>
<div class="t" style="top:350px;font-size:10px;line-height:10px;letter-spacing:0.3px;left:14px;">M<span class="lc">o</span>.</div>
<div class="t" style="top:350px;font-size:10px;line-height:10px;right:510.2px;transform:scaleX(0.9);transform-origin:100% 0;">41</div>
<div class="t" style="top:350px;font-size:10px;line-height:10px;right:449.4px;transform:scaleX(0.9);transform-origin:100% 0;">55</div>
<div class="t" style="top:350px;font-size:10px;line-height:10px;right:402.7px;">-</div>
<div class="t" style="top:350px;font-size:10px;line-height:10px;right:356.5px;">-</div>
<div class="t" style="top:350px;font-size:10px;line-height:10px;right:309.9px;transform:scaleX(0.9);transform-origin:100% 0;">4</div>
<div class="t" style="top:350px;font-size:10px;line-height:10px;right:265.6px;">-</div>
<div class="t" style="top:350px;font-size:10px;line-height:10px;right:218.0px;transform:scaleX(0.9);transform-origin:100% 0;">75</div>
<div class="t" style="top:350px;font-size:10px;line-height:10px;right:166.60000000000002px;transform:scaleX(0.9);transform-origin:100% 0;">50</div>
<div class="t" style="top:350px;font-size:10px;line-height:10px;right:124.39999999999998px;">-</div>
<div class="t" style="top:350px;font-size:10px;line-height:10px;right:82.0px;transform:scaleX(0.9);transform-origin:100% 0;">1</div>
<div class="t" style="top:350px;font-size:10px;line-height:10px;right:30.100000000000023px;">-</div>
<div class="t" style="top:360px;font-size:10px;line-height:10px;letter-spacing:0.3px;left:14px;">N. D<span class="lc">ak</span>.</div>
<div class="t" style="top:360px;font-size:10px;line-height:10px;right:510.2px;transform:scaleX(0.9);transform-origin:100% 0;">5</div>
<div class="t" style="top:360px;font-size:10px;line-height:10px;right:449.4px;transform:scaleX(0.9);transform-origin:100% 0;">2</div>
<div class="t" style="top:360px;font-size:10px;line-height:10px;right:402.7px;">-</div>
<div class="t" style="top:360px;font-size:10px;line-height:10px;right:356.5px;">-</div>
<div class="t" style="top:360px;font-size:10px;line-height:10px;right:309.9px;transform:scaleX(0.9);transform-origin:100% 0;">1</div>
<div class="t" style="top:360px;font-size:10px;line-height:10px;right:265.6px;">-</div>
<div class="t" style="top:360px;font-size:10px;line-height:10px;right:218.0px;">-</div>
<div class="t" style="top:360px;font-size:10px;line-height:10px;right:166.60000000000002px;transform:scaleX(0.9);transform-origin:100% 0;">3</div>
<div class="t" style="top:360px;font-size:10px;line-height:10px;right:124.39999999999998px;">-</div>
<div class="t" style="top:360px;font-size:10px;line-height:10px;right:82.0px;">-</div>
<div class="t" style="top:360px;font-size:10px;line-height:10px;right:30.100000000000023px;">-</div>
<div class="t" style="top:370px;font-size:10px;line-height:10px;letter-spacing:0.3px;left:14px;">S. D<span class="lc">ak</span>.</div>
<div class="t" style="top:370px;font-size:10px;line-height:10px;right:510.2px;transform:scaleX(0.9);transform-origin:100% 0;">5</div>
<div class="t" style="top:370px;font-size:10px;line-height:10px;right:449.4px;transform:scaleX(0.9);transform-origin:100% 0;">5</div>
<div class="t" style="top:370px;font-size:10px;line-height:10px;right:402.7px;">-</div>
<div class="t" style="top:370px;font-size:10px;line-height:10px;right:356.5px;">-</div>
<div class="t" style="top:370px;font-size:10px;line-height:10px;right:309.9px;">-</div>
<div class="t" style="top:370px;font-size:10px;line-height:10px;right:265.6px;">-</div>
<div class="t" style="top:370px;font-size:10px;line-height:10px;right:218.0px;transform:scaleX(0.9);transform-origin:100% 0;">3</div>
<div class="t" style="top:370px;font-size:10px;line-height:10px;right:166.60000000000002px;transform:scaleX(0.9);transform-origin:100% 0;">3</div>
<div class="t" style="top:370px;font-size:10px;line-height:10px;right:124.39999999999998px;">-</div>
<div class="t" style="top:370px;font-size:10px;line-height:10px;right:82.0px;">-</div>
<div class="t" style="top:370px;font-size:10px;line-height:10px;right:30.100000000000023px;">-</div>
<div class="t" style="top:379px;font-size:10px;line-height:10px;letter-spacing:0.3px;left:14px;">N<span class="lc">ebr</span>.</div>
<div class="t" style="top:379px;font-size:10px;line-height:10px;right:510.2px;transform:scaleX(0.9);transform-origin:100% 0;">12</div>
<div class="t" style="top:379px;font-size:10px;line-height:10px;right:449.4px;transform:scaleX(0.9);transform-origin:100% 0;">6</div>
<div class="t" style="top:379px;font-size:10px;line-height:10px;right:402.7px;">U</div>
<div class="t" style="top:379px;font-size:10px;line-height:10px;right:356.5px;transform:scaleX(0.9);transform-origin:100% 0;">1</div>
<div class="t" style="top:379px;font-size:10px;line-height:10px;right:309.9px;transform:scaleX(0.9);transform-origin:100% 0;">1</div>
<div class="t" style="top:379px;font-size:10px;line-height:10px;right:265.6px;">U</div>
<div class="t" style="top:379px;font-size:10px;line-height:10px;right:218.0px;transform:scaleX(0.9);transform-origin:100% 0;">4</div>
<div class="t" style="top:379px;font-size:10px;line-height:10px;right:166.60000000000002px;transform:scaleX(0.9);transform-origin:100% 0;">21</div>
<div class="t" style="top:379px;font-size:10px;line-height:10px;right:124.39999999999998px;">U</div>
<div class="t" style="top:379px;font-size:10px;line-height:10px;right:82.0px;">-</div>
<div class="t" style="top:379px;font-size:10px;line-height:10px;right:30.100000000000023px;transform:scaleX(0.9);transform-origin:100% 0;">1</div>
<div class="t" style="top:389px;font-size:10px;line-height:10px;letter-spacing:0.3px;left:14px;">K<span class="lc">ans</span>.</div>
<div class="t" style="top:389px;font-size:10px;line-height:10px;right:510.2px;transform:scaleX(0.9);transform-origin:100% 0;">13</div>
<div class="t" style="top:389px;font-size:10px;line-height:10px;right:449.4px;transform:scaleX(0.9);transform-origin:100% 0;">7</div>
<div class="t" style="top:389px;font-size:10px;line-height:10px;right:402.7px;">-</div>
<div class="t" style="top:389px;font-size:10px;line-height:10px;right:356.5px;transform:scaleX(0.9);transform-origin:100% 0;">3</div>
<div class="t" style="top:389px;font-size:10px;line-height:10px;right:309.9px;transform:scaleX(0.9);transform-origin:100% 0;">3</div>
<div class="t" style="top:389px;font-size:10px;line-height:10px;right:265.6px;">-</div>
<div class="t" style="top:389px;font-size:10px;line-height:10px;right:218.0px;transform:scaleX(0.9);transform-origin:100% 0;">16</div>
<div class="t" style="top:389px;font-size:10px;line-height:10px;right:166.60000000000002px;transform:scaleX(0.9);transform-origin:100% 0;">32</div>
<div class="t" style="top:389px;font-size:10px;line-height:10px;right:124.39999999999998px;">-</div>
<div class="t" style="top:389px;font-size:10px;line-height:10px;right:82.0px;transform:scaleX(0.9);transform-origin:100% 0;">1</div>
<div class="t" style="top:389px;font-size:10px;line-height:10px;right:30.100000000000023px;">-</div>
<div class="t" style="top:405px;font-size:10px;line-height:10px;letter-spacing:0.3px;left:14px;transform:scaleX(0.9851);transform-origin:0 0;">S. ATLANTIC</div>
<div class="t" style="top:405px;font-size:10px;line-height:10px;right:510.2px;transform:scaleX(0.9);transform-origin:100% 0;">308</div>
<div class="t" style="top:405px;font-size:10px;line-height:10px;right:449.4px;transform:scaleX(0.9);transform-origin:100% 0;">231</div>
<div class="t" style="top:405px;font-size:10px;line-height:10px;right:402.7px;">-</div>
<div class="t" style="top:405px;font-size:10px;line-height:10px;right:356.5px;transform:scaleX(0.9);transform-origin:100% 0;">28</div>
<div class="t" style="top:405px;font-size:10px;line-height:10px;right:309.9px;transform:scaleX(0.9);transform-origin:100% 0;">38</div>
<div class="t" style="top:405px;font-size:10px;line-height:10px;right:265.6px;transform:scaleX(0.9);transform-origin:100% 0;">6</div>
<div class="t" style="top:405px;font-size:10px;line-height:10px;right:218.0px;transform:scaleX(0.9);transform-origin:100% 0;">182</div>
<div class="t" style="top:405px;font-size:10px;line-height:10px;right:166.60000000000002px;transform:scaleX(0.9);transform-origin:100% 0;">352</div>
<div class="t" style="top:405px;font-size:10px;line-height:10px;right:124.39999999999998px;">-</div>
<div class="t" style="top:405px;font-size:10px;line-height:10px;right:82.0px;transform:scaleX(0.9);transform-origin:100% 0;">4</div>
<div class="t" style="top:405px;font-size:10px;line-height:10px;right:30.100000000000023px;transform:scaleX(0.9);transform-origin:100% 0;">72</div>
<div class="t" style="top:415px;font-size:10px;line-height:10px;letter-spacing:0.3px;left:14px;">D<span class="lc">el</span>.</div>
<div class="t" style="top:415px;font-size:10px;line-height:10px;right:510.2px;transform:scaleX(0.9);transform-origin:100% 0;">4</div>
<div class="t" style="top:415px;font-size:10px;line-height:10px;right:449.4px;">-</div>
<div class="t" style="top:415px;font-size:10px;line-height:10px;right:402.7px;">-</div>
<div class="t" style="top:415px;font-size:10px;line-height:10px;right:356.5px;">-</div>
<div class="t" style="top:415px;font-size:10px;line-height:10px;right:309.9px;">-</div>
<div class="t" style="top:415px;font-size:10px;line-height:10px;right:265.6px;">-</div>
<div class="t" style="top:415px;font-size:10px;line-height:10px;right:218.0px;">-</div>
<div class="t" style="top:415px;font-size:10px;line-height:10px;right:166.60000000000002px;transform:scaleX(0.9);transform-origin:100% 0;">8</div>
<div class="t" style="top:415px;font-size:10px;line-height:10px;right:124.39999999999998px;">-</div>
<div class="t" style="top:415px;font-size:10px;line-height:10px;right:82.0px;">-</div>
<div class="t" style="top:415px;font-size:10px;line-height:10px;right:30.100000000000023px;">-</div>
<div class="t" style="top:425px;font-size:10px;line-height:10px;letter-spacing:0.3px;left:14px;">M<span class="lc">d</span>.</div>
<div class="t" style="top:425px;font-size:10px;line-height:10px;right:510.2px;transform:scaleX(0.9);transform-origin:100% 0;">36</div>
<div class="t" style="top:425px;font-size:10px;line-height:10px;right:449.4px;transform:scaleX(0.9);transform-origin:100% 0;">26</div>
<div class="t" style="top:425px;font-size:10px;line-height:10px;right:402.7px;">-</div>
<div class="t" style="top:425px;font-size:10px;line-height:10px;right:356.5px;transform:scaleX(0.9);transform-origin:100% 0;">5</div>
<div class="t" style="top:425px;font-size:10px;line-height:10px;right:309.9px;transform:scaleX(0.9);transform-origin:100% 0;">9</div>
<div class="t" style="top:425px;font-size:10px;line-height:10px;right:265.6px;transform:scaleX(0.9);transform-origin:100% 0;">2</div>
<div class="t" style="top:425px;font-size:10px;line-height:10px;right:218.0px;transform:scaleX(0.9);transform-origin:100% 0;">29</div>
<div class="t" style="top:425px;font-size:10px;line-height:10px;right:166.60000000000002px;transform:scaleX(0.9);transform-origin:100% 0;">87</div>
<div class="t" style="top:425px;font-size:10px;line-height:10px;right:124.39999999999998px;">-</div>
<div class="t" style="top:425px;font-size:10px;line-height:10px;right:82.0px;">-</div>
<div class="t" style="top:425px;font-size:10px;line-height:10px;right:30.100000000000023px;">-</div>
<div class="t" style="top:435px;font-size:10px;line-height:10px;letter-spacing:0.3px;left:14px;">D.C.</div>
<div class="t" style="top:435px;font-size:10px;line-height:10px;right:510.2px;">-</div>
<div class="t" style="top:435px;font-size:10px;line-height:10px;right:449.4px;">-</div>
<div class="t" style="top:435px;font-size:10px;line-height:10px;right:402.7px;">U</div>
<div class="t" style="top:435px;font-size:10px;line-height:10px;right:356.5px;">-</div>
<div class="t" style="top:435px;font-size:10px;line-height:10px;right:309.9px;">-</div>
<div class="t" style="top:435px;font-size:10px;line-height:10px;right:265.6px;">U</div>
<div class="t" style="top:435px;font-size:10px;line-height:10px;right:218.0px;transform:scaleX(0.9);transform-origin:100% 0;">1</div>
<div class="t" style="top:435px;font-size:10px;line-height:10px;right:166.60000000000002px;transform:scaleX(0.9);transform-origin:100% 0;">3</div>
<div class="t" style="top:435px;font-size:10px;line-height:10px;right:124.39999999999998px;">U</div>
<div class="t" style="top:435px;font-size:10px;line-height:10px;right:82.0px;">-</div>
<div class="t" style="top:435px;font-size:10px;line-height:10px;right:30.100000000000023px;">-</div>
<div class="t" style="top:444px;font-size:10px;line-height:10px;letter-spacing:0.3px;left:14px;">V<span class="lc">a</span>.</div>
<div class="t" style="top:444px;font-size:10px;line-height:10px;right:510.2px;transform:scaleX(0.9);transform-origin:100% 0;">33</div>
<div class="t" style="top:444px;font-size:10px;line-height:10px;right:449.4px;transform:scaleX(0.9);transform-origin:100% 0;">35</div>
<div class="t" style="top:444px;font-size:10px;line-height:10px;right:402.7px;">-</div>
<div class="t" style="top:444px;font-size:10px;line-height:10px;right:356.5px;transform:scaleX(0.9);transform-origin:100% 0;">6</div>
<div class="t" style="top:444px;font-size:10px;line-height:10px;right:309.9px;transform:scaleX(0.9);transform-origin:100% 0;">8</div>
<div class="t" style="top:444px;font-size:10px;line-height:10px;right:265.6px;transform:scaleX(0.9);transform-origin:100% 0;">3</div>
<div class="t" style="top:444px;font-size:10px;line-height:10px;right:218.0px;transform:scaleX(0.9);transform-origin:100% 0;">35</div>
<div class="t" style="top:444px;font-size:10px;line-height:10px;right:166.60000000000002px;transform:scaleX(0.9);transform-origin:100% 0;">66</div>
<div class="t" style="top:444px;font-size:10px;line-height:10px;right:124.39999999999998px;">-</div>
<div class="t" style="top:444px;font-size:10px;line-height:10px;right:82.0px;">-</div>
<div class="t" style="top:444px;font-size:10px;line-height:10px;right:30.100000000000023px;">-</div>
<div class="t" style="top:454px;font-size:10px;line-height:10px;letter-spacing:0.3px;left:14px;transform:scaleX(0.9825);transform-origin:0 0;">W. V<span class="lc">a</span>.</div>
<div class="t" style="top:454px;font-size:10px;line-height:10px;right:510.2px;transform:scaleX(0.9);transform-origin:100% 0;">11</div>
<div class="t" style="top:454px;font-size:10px;line-height:10px;right:449.4px;transform:scaleX(0.9);transform-origin:100% 0;">11</div>
<div class="t" style="top:454px;font-size:10px;line-height:10px;right:402.7px;">-</div>
<div class="t" style="top:454px;font-size:10px;line-height:10px;right:356.5px;">-</div>
<div class="t" style="top:454px;font-size:10px;line-height:10px;right:309.9px;">-</div>
<div class="t" style="top:454px;font-size:10px;line-height:10px;right:265.6px;">-</div>
<div class="t" style="top:454px;font-size:10px;line-height:10px;right:218.0px;transform:scaleX(0.9);transform-origin:100% 0;">2</div>
<div class="t" style="top:454px;font-size:10px;line-height:10px;right:166.60000000000002px;transform:scaleX(0.9);transform-origin:100% 0;">1</div>
<div class="t" style="top:454px;font-size:10px;line-height:10px;right:124.39999999999998px;">-</div>
<div class="t" style="top:454px;font-size:10px;line-height:10px;right:82.0px;">-</div>
<div class="t" style="top:454px;font-size:10px;line-height:10px;right:30.100000000000023px;">-</div>
<div class="t" style="top:464px;font-size:10px;line-height:10px;letter-spacing:0.3px;left:14px;">N.C.</div>
<div class="t" style="top:464px;font-size:10px;line-height:10px;right:510.2px;transform:scaleX(0.9);transform-origin:100% 0;">59</div>
<div class="t" style="top:464px;font-size:10px;line-height:10px;right:449.4px;transform:scaleX(0.9);transform-origin:100% 0;">32</div>
<div class="t" style="top:464px;font-size:10px;line-height:10px;right:402.7px;">-</div>
<div class="t" style="top:464px;font-size:10px;line-height:10px;right:356.5px;transform:scaleX(0.9);transform-origin:100% 0;">3</div>
<div class="t" style="top:464px;font-size:10px;line-height:10px;right:309.9px;transform:scaleX(0.9);transform-origin:100% 0;">5</div>
<div class="t" style="top:464px;font-size:10px;line-height:10px;right:265.6px;">-</div>
<div class="t" style="top:464px;font-size:10px;line-height:10px;right:218.0px;transform:scaleX(0.9);transform-origin:100% 0;">51</div>
<div class="t" style="top:464px;font-size:10px;line-height:10px;right:166.60000000000002px;transform:scaleX(0.9);transform-origin:100% 0;">77</div>
<div class="t" style="top:464px;font-size:10px;line-height:10px;right:124.39999999999998px;">-</div>
<div class="t" style="top:464px;font-size:10px;line-height:10px;right:82.0px;">-</div>
<div class="t" style="top:464px;font-size:10px;line-height:10px;right:30.100000000000023px;transform:scaleX(0.9);transform-origin:100% 0;">64</div>
<div class="t" style="top:473px;font-size:10px;line-height:10px;letter-spacing:0.3px;left:14px;">S.C.</div>
<div class="t" style="top:473px;font-size:10px;line-height:10px;right:510.2px;transform:scaleX(0.9);transform-origin:100% 0;">31</div>
<div class="t" style="top:473px;font-size:10px;line-height:10px;right:449.4px;transform:scaleX(0.9);transform-origin:100% 0;">19</div>
<div class="t" style="top:473px;font-size:10px;line-height:10px;right:402.7px;">-</div>
<div class="t" style="top:473px;font-size:10px;line-height:10px;right:356.5px;transform:scaleX(0.9);transform-origin:100% 0;">2</div>
<div class="t" style="top:473px;font-size:10px;line-height:10px;right:309.9px;transform:scaleX(0.9);transform-origin:100% 0;">10</div>
<div class="t" style="top:473px;font-size:10px;line-height:10px;right:265.6px;">-</div>
<div class="t" style="top:473px;font-size:10px;line-height:10px;right:218.0px;transform:scaleX(0.9);transform-origin:100% 0;">32</div>
<div class="t" style="top:473px;font-size:10px;line-height:10px;right:166.60000000000002px;transform:scaleX(0.9);transform-origin:100% 0;">23</div>
<div class="t" style="top:473px;font-size:10px;line-height:10px;right:124.39999999999998px;">-</div>
<div class="t" style="top:473px;font-size:10px;line-height:10px;right:82.0px;transform:scaleX(0.9);transform-origin:100% 0;">2</div>
<div class="t" style="top:473px;font-size:10px;line-height:10px;right:30.100000000000023px;transform:scaleX(0.9);transform-origin:100% 0;">6</div>
<div class="t" style="top:483px;font-size:10px;line-height:10px;letter-spacing:0.3px;left:14px;">G<span class="lc">a</span>.</div>
<div class="t" style="top:483px;font-size:10px;line-height:10px;right:510.2px;transform:scaleX(0.9);transform-origin:100% 0;">36</div>
<div class="t" style="top:483px;font-size:10px;line-height:10px;right:449.4px;transform:scaleX(0.9);transform-origin:100% 0;">38</div>
<div class="t" style="top:483px;font-size:10px;line-height:10px;right:402.7px;">-</div>
<div class="t" style="top:483px;font-size:10px;line-height:10px;right:356.5px;transform:scaleX(0.9);transform-origin:100% 0;">7</div>
<div class="t" style="top:483px;font-size:10px;line-height:10px;right:309.9px;transform:scaleX(0.9);transform-origin:100% 0;">2</div>
<div class="t" style="top:483px;font-size:10px;line-height:10px;right:265.6px;">-</div>
<div class="t" style="top:483px;font-size:10px;line-height:10px;right:218.0px;transform:scaleX(0.9);transform-origin:100% 0;">7</div>
<div class="t" style="top:483px;font-size:10px;line-height:10px;right:166.60000000000002px;transform:scaleX(0.9);transform-origin:100% 0;">34</div>
<div class="t" style="top:483px;font-size:10px;line-height:10px;right:124.39999999999998px;">-</div>
<div class="t" style="top:483px;font-size:10px;line-height:10px;right:82.0px;">-</div>
<div class="t" style="top:483px;font-size:10px;line-height:10px;right:30.100000000000023px;">-</div>
<div class="t" style="top:493px;font-size:10px;line-height:10px;letter-spacing:0.3px;left:14px;">F<span class="lc">la</span>.</div>
<div class="t" style="top:493px;font-size:10px;line-height:10px;right:510.2px;transform:scaleX(0.9);transform-origin:100% 0;">98</div>
<div class="t" style="top:493px;font-size:10px;line-height:10px;right:449.4px;transform:scaleX(0.9);transform-origin:100% 0;">70</div>
<div class="t" style="top:493px;font-size:10px;line-height:10px;right:402.7px;">-</div>
<div class="t" style="top:493px;font-size:10px;line-height:10px;right:356.5px;transform:scaleX(0.9);transform-origin:100% 0;">5</div>
<div class="t" style="top:493px;font-size:10px;line-height:10px;right:309.9px;transform:scaleX(0.9);transform-origin:100% 0;">4</div>
<div class="t" style="top:493px;font-size:10px;line-height:10px;right:265.6px;transform:scaleX(0.9);transform-origin:100% 0;">1</div>
<div class="t" style="top:493px;font-size:10px;line-height:10px;right:218.0px;transform:scaleX(0.9);transform-origin:100% 0;">25</div>
<div class="t" style="top:493px;font-size:10px;line-height:10px;right:166.60000000000002px;transform:scaleX(0.9);transform-origin:100% 0;">53</div>
<div class="t" style="top:493px;font-size:10px;line-height:10px;right:124.39999999999998px;">-</div>
<div class="t" style="top:493px;font-size:10px;line-height:10px;right:82.0px;transform:scaleX(0.9);transform-origin:100% 0;">2</div>
<div class="t" style="top:493px;font-size:10px;line-height:10px;right:30.100000000000023px;transform:scaleX(0.9);transform-origin:100% 0;">2</div>
<div class="t" style="top:509px;font-size:10px;line-height:10px;letter-spacing:0.3px;left:14px;transform:scaleX(0.9669);transform-origin:0 0;">E.S. CENTRAL</div>
<div class="t" style="top:509px;font-size:10px;line-height:10px;right:510.2px;transform:scaleX(0.9);transform-origin:100% 0;">112</div>
<div class="t" style="top:509px;font-size:10px;line-height:10px;right:449.4px;transform:scaleX(0.9);transform-origin:100% 0;">114</div>
<div class="t" style="top:509px;font-size:10px;line-height:10px;right:402.7px;transform:scaleX(0.9);transform-origin:100% 0;">1</div>
<div class="t" style="top:509px;font-size:10px;line-height:10px;right:356.5px;transform:scaleX(0.9);transform-origin:100% 0;">6</div>
<div class="t" style="top:509px;font-size:10px;line-height:10px;right:309.9px;transform:scaleX(0.9);transform-origin:100% 0;">5</div>
<div class="t" style="top:509px;font-size:10px;line-height:10px;right:265.6px;transform:scaleX(0.9);transform-origin:100% 0;">4</div>
<div class="t" style="top:509px;font-size:10px;line-height:10px;right:218.0px;transform:scaleX(0.9);transform-origin:100% 0;">93</div>
<div class="t" style="top:509px;font-size:10px;line-height:10px;right:166.60000000000002px;transform:scaleX(0.9);transform-origin:100% 0;">92</div>
<div class="t" style="top:509px;font-size:10px;line-height:10px;right:124.39999999999998px;">-</div>
<div class="t" style="top:509px;font-size:10px;line-height:10px;right:82.0px;">-</div>
<div class="t" style="top:509px;font-size:10px;line-height:10px;right:30.100000000000023px;transform:scaleX(0.9);transform-origin:100% 0;">6</div>
<div class="t" style="top:519px;font-size:10px;line-height:10px;letter-spacing:0.3px;left:14px;">K<span class="lc">y</span>.</div>
<div class="t" style="top:519px;font-size:10px;line-height:10px;right:510.2px;transform:scaleX(0.9);transform-origin:100% 0;">19</div>
<div class="t" style="top:519px;font-size:10px;line-height:10px;right:449.4px;transform:scaleX(0.9);transform-origin:100% 0;">25</div>
<div class="t" style="top:519px;font-size:10px;line-height:10px;right:402.7px;">-</div>
<div class="t" style="top:519px;font-size:10px;line-height:10px;right:356.5px;transform:scaleX(0.9);transform-origin:100% 0;">1</div>
<div class="t" style="top:519px;font-size:10px;line-height:10px;right:309.9px;transform:scaleX(0.9);transform-origin:100% 0;">1</div>
<div class="t" style="top:519px;font-size:10px;line-height:10px;right:265.6px;">-</div>
<div class="t" style="top:519px;font-size:10px;line-height:10px;right:218.0px;transform:scaleX(0.9);transform-origin:100% 0;">19</div>
<div class="t" style="top:519px;font-size:10px;line-height:10px;right:166.60000000000002px;transform:scaleX(0.9);transform-origin:100% 0;">45</div>
<div class="t" style="top:519px;font-size:10px;line-height:10px;right:124.39999999999998px;">-</div>
<div class="t" style="top:519px;font-size:10px;line-height:10px;right:82.0px;">-</div>
<div class="t" style="top:519px;font-size:10px;line-height:10px;right:30.100000000000023px;transform:scaleX(0.9);transform-origin:100% 0;">1</div>
<div class="t" style="top:529px;font-size:10px;line-height:10px;letter-spacing:0.3px;left:14px;">T<span class="lc">enn</span>.</div>
<div class="t" style="top:529px;font-size:10px;line-height:10px;right:510.2px;transform:scaleX(0.9);transform-origin:100% 0;">50</div>
<div class="t" style="top:529px;font-size:10px;line-height:10px;right:449.4px;transform:scaleX(0.9);transform-origin:100% 0;">45</div>
<div class="t" style="top:529px;font-size:10px;line-height:10px;right:402.7px;transform:scaleX(0.9);transform-origin:100% 0;">1</div>
<div class="t" style="top:529px;font-size:10px;line-height:10px;right:356.5px;transform:scaleX(0.9);transform-origin:100% 0;">1</div>
<div class="t" style="top:529px;font-size:10px;line-height:10px;right:309.9px;transform:scaleX(0.9);transform-origin:100% 0;">2</div>
<div class="t" style="top:529px;font-size:10px;line-height:10px;right:265.6px;transform:scaleX(0.9);transform-origin:100% 0;">2</div>
<div class="t" style="top:529px;font-size:10px;line-height:10px;right:218.0px;transform:scaleX(0.9);transform-origin:100% 0;">41</div>
<div class="t" style="top:529px;font-size:10px;line-height:10px;right:166.60000000000002px;transform:scaleX(0.9);transform-origin:100% 0;">27</div>
<div class="t" style="top:529px;font-size:10px;line-height:10px;right:124.39999999999998px;">-</div>
<div class="t" style="top:529px;font-size:10px;line-height:10px;right:82.0px;">-</div>
<div class="t" style="top:529px;font-size:10px;line-height:10px;right:30.100000000000023px;transform:scaleX(0.9);transform-origin:100% 0;">1</div>
<div class="t" style="top:538px;font-size:10px;line-height:10px;letter-spacing:0.3px;left:14px;">A<span class="lc">la</span>.</div>
<div class="t" style="top:538px;font-size:10px;line-height:10px;right:510.2px;transform:scaleX(0.9);transform-origin:100% 0;">30</div>
<div class="t" style="top:538px;font-size:10px;line-height:10px;right:449.4px;transform:scaleX(0.9);transform-origin:100% 0;">31</div>
<div class="t" style="top:538px;font-size:10px;line-height:10px;right:402.7px;">-</div>
<div class="t" style="top:538px;font-size:10px;line-height:10px;right:356.5px;">-</div>
<div class="t" style="top:538px;font-size:10px;line-height:10px;right:309.9px;transform:scaleX(0.9);transform-origin:100% 0;">2</div>
<div class="t" style="top:538px;font-size:10px;line-height:10px;right:265.6px;transform:scaleX(0.9);transform-origin:100% 0;">2</div>
<div class="t" style="top:538px;font-size:10px;line-height:10px;right:218.0px;transform:scaleX(0.9);transform-origin:100% 0;">29</div>
<div class="t" style="top:538px;font-size:10px;line-height:10px;right:166.60000000000002px;transform:scaleX(0.9);transform-origin:100% 0;">17</div>
<div class="t" style="top:538px;font-size:10px;line-height:10px;right:124.39999999999998px;">-</div>
<div class="t" style="top:538px;font-size:10px;line-height:10px;right:82.0px;">-</div>
<div class="t" style="top:538px;font-size:10px;line-height:10px;right:30.100000000000023px;transform:scaleX(0.9);transform-origin:100% 0;">4</div>
<div class="t" style="top:548px;font-size:10px;line-height:10px;letter-spacing:0.3px;left:14px;">M<span class="lc">iss</span>.</div>
<div class="t" style="top:548px;font-size:10px;line-height:10px;right:510.2px;transform:scaleX(0.9);transform-origin:100% 0;">13</div>
<div class="t" style="top:548px;font-size:10px;line-height:10px;right:449.4px;transform:scaleX(0.9);transform-origin:100% 0;">13</div>
<div class="t" style="top:548px;font-size:10px;line-height:10px;right:402.7px;">-</div>
<div class="t" style="top:548px;font-size:10px;line-height:10px;right:356.5px;transform:scaleX(0.9);transform-origin:100% 0;">4</div>
<div class="t" style="top:548px;font-size:10px;line-height:10px;right:309.9px;">-</div>
<div class="t" style="top:548px;font-size:10px;line-height:10px;right:265.6px;">-</div>
<div class="t" style="top:548px;font-size:10px;line-height:10px;right:218.0px;transform:scaleX(0.9);transform-origin:100% 0;">4</div>
<div class="t" style="top:548px;font-size:10px;line-height:10px;right:166.60000000000002px;transform:scaleX(0.9);transform-origin:100% 0;">3</div>
<div class="t" style="top:548px;font-size:10px;line-height:10px;right:124.39999999999998px;">-</div>
<div class="t" style="top:548px;font-size:10px;line-height:10px;right:82.0px;">-</div>
<div class="t" style="top:548px;font-size:10px;line-height:10px;right:30.100000000000023px;">-</div>
<div class="t" style="top:564px;font-size:10px;line-height:10px;letter-spacing:0.3px;left:14px;">W.S. CENTRAL</div>
<div class="t" style="top:564px;font-size:10px;line-height:10px;right:510.2px;transform:scaleX(0.9);transform-origin:100% 0;">178</div>
<div class="t" style="top:564px;font-size:10px;line-height:10px;right:449.4px;transform:scaleX(0.9);transform-origin:100% 0;">173</div>
<div class="t" style="top:564px;font-size:10px;line-height:10px;right:402.7px;">-</div>
<div class="t" style="top:564px;font-size:10px;line-height:10px;right:356.5px;transform:scaleX(0.9);transform-origin:100% 0;">9</div>
<div class="t" style="top:564px;font-size:10px;line-height:10px;right:309.9px;transform:scaleX(0.9);transform-origin:100% 0;">28</div>
<div class="t" style="top:564px;font-size:10px;line-height:10px;right:265.6px;transform:scaleX(0.9);transform-origin:100% 0;">5</div>
<div class="t" style="top:564px;font-size:10px;line-height:10px;right:218.0px;transform:scaleX(0.9);transform-origin:100% 0;">270</div>
<div class="t" style="top:564px;font-size:10px;line-height:10px;right:166.60000000000002px;transform:scaleX(0.9);transform-origin:100% 0;">284</div>
<div class="t" style="top:564px;font-size:10px;line-height:10px;right:124.39999999999998px;">-</div>
<div class="t" style="top:564px;font-size:10px;line-height:10px;right:82.0px;">-</div>
<div class="t" style="top:564px;font-size:10px;line-height:10px;right:30.100000000000023px;transform:scaleX(0.9);transform-origin:100% 0;">8</div>
<div class="t" style="top:574px;font-size:10px;line-height:10px;letter-spacing:0.3px;left:14px;">A<span class="lc">rk</span>.</div>
<div class="t" style="top:574px;font-size:10px;line-height:10px;right:510.2px;transform:scaleX(0.9);transform-origin:100% 0;">17</div>
<div class="t" style="top:574px;font-size:10px;line-height:10px;right:449.4px;transform:scaleX(0.9);transform-origin:100% 0;">11</div>
<div class="t" style="top:574px;font-size:10px;line-height:10px;right:402.7px;">-</div>
<div class="t" style="top:574px;font-size:10px;line-height:10px;right:356.5px;transform:scaleX(0.9);transform-origin:100% 0;">1</div>
<div class="t" style="top:574px;font-size:10px;line-height:10px;right:309.9px;transform:scaleX(0.9);transform-origin:100% 0;">1</div>
<div class="t" style="top:574px;font-size:10px;line-height:10px;right:265.6px;">-</div>
<div class="t" style="top:574px;font-size:10px;line-height:10px;right:218.0px;transform:scaleX(0.9);transform-origin:100% 0;">12</div>
<div class="t" style="top:574px;font-size:10px;line-height:10px;right:166.60000000000002px;transform:scaleX(0.9);transform-origin:100% 0;">33</div>
<div class="t" style="top:574px;font-size:10px;line-height:10px;right:124.39999999999998px;">-</div>
<div class="t" style="top:574px;font-size:10px;line-height:10px;right:82.0px;">-</div>
<div class="t" style="top:574px;font-size:10px;line-height:10px;right:30.100000000000023px;transform:scaleX(0.9);transform-origin:100% 0;">1</div>
<div class="t" style="top:584px;font-size:10px;line-height:10px;letter-spacing:0.3px;left:14px;">L<span class="lc">a</span>.</div>
<div class="t" style="top:584px;font-size:10px;line-height:10px;right:510.2px;transform:scaleX(0.9);transform-origin:100% 0;">56</div>
<div class="t" style="top:584px;font-size:10px;line-height:10px;right:449.4px;transform:scaleX(0.9);transform-origin:100% 0;">40</div>
<div class="t" style="top:584px;font-size:10px;line-height:10px;right:402.7px;">-</div>
<div class="t" style="top:584px;font-size:10px;line-height:10px;right:356.5px;transform:scaleX(0.9);transform-origin:100% 0;">2</div>
<div class="t" style="top:584px;font-size:10px;line-height:10px;right:309.9px;transform:scaleX(0.9);transform-origin:100% 0;">5</div>
<div class="t" style="top:584px;font-size:10px;line-height:10px;right:265.6px;">-</div>
<div class="t" style="top:584px;font-size:10px;line-height:10px;right:218.0px;transform:scaleX(0.9);transform-origin:100% 0;">2</div>
<div class="t" style="top:584px;font-size:10px;line-height:10px;right:166.60000000000002px;transform:scaleX(0.9);transform-origin:100% 0;">18</div>
<div class="t" style="top:584px;font-size:10px;line-height:10px;right:124.39999999999998px;">-</div>
<div class="t" style="top:584px;font-size:10px;line-height:10px;right:82.0px;">-</div>
<div class="t" style="top:584px;font-size:10px;line-height:10px;right:30.100000000000023px;transform:scaleX(0.9);transform-origin:100% 0;">1</div>
<div class="t" style="top:593px;font-size:10px;line-height:10px;letter-spacing:0.3px;left:14px;">O<span class="lc">kla</span>.</div>
<div class="t" style="top:593px;font-size:10px;line-height:10px;right:510.2px;transform:scaleX(0.9);transform-origin:100% 0;">25</div>
<div class="t" style="top:593px;font-size:10px;line-height:10px;right:449.4px;transform:scaleX(0.9);transform-origin:100% 0;">23</div>
<div class="t" style="top:593px;font-size:10px;line-height:10px;right:402.7px;">-</div>
<div class="t" style="top:593px;font-size:10px;line-height:10px;right:356.5px;">-</div>
<div class="t" style="top:593px;font-size:10px;line-height:10px;right:309.9px;">-</div>
<div class="t" style="top:593px;font-size:10px;line-height:10px;right:265.6px;transform:scaleX(0.9);transform-origin:100% 0;">5</div>
<div class="t" style="top:593px;font-size:10px;line-height:10px;right:218.0px;transform:scaleX(0.9);transform-origin:100% 0;">6</div>
<div class="t" style="top:593px;font-size:10px;line-height:10px;right:166.60000000000002px;transform:scaleX(0.9);transform-origin:100% 0;">16</div>
<div class="t" style="top:593px;font-size:10px;line-height:10px;right:124.39999999999998px;">-</div>
<div class="t" style="top:593px;font-size:10px;line-height:10px;right:82.0px;">-</div>
<div class="t" style="top:593px;font-size:10px;line-height:10px;right:30.100000000000023px;">-</div>
<div class="t" style="top:603px;font-size:10px;line-height:10px;letter-spacing:0.3px;left:14px;">T<span class="lc">ex</span>.</div>
<div class="t" style="top:603px;font-size:10px;line-height:10px;right:510.2px;transform:scaleX(0.9);transform-origin:100% 0;">80</div>
<div class="t" style="top:603px;font-size:10px;line-height:10px;right:449.4px;transform:scaleX(0.9);transform-origin:100% 0;">99</div>
<div class="t" style="top:603px;font-size:10px;line-height:10px;right:402.7px;">U</div>
<div class="t" style="top:603px;font-size:10px;line-height:10px;right:356.5px;transform:scaleX(0.9);transform-origin:100% 0;">6</div>
<div class="t" style="top:603px;font-size:10px;line-height:10px;right:309.9px;transform:scaleX(0.9);transform-origin:100% 0;">22</div>
<div class="t" style="top:603px;font-size:10px;line-height:10px;right:265.6px;">U</div>
<div class="t" style="top:603px;font-size:10px;line-height:10px;right:218.0px;transform:scaleX(0.9);transform-origin:100% 0;">250</div>
<div class="t" style="top:603px;font-size:10px;line-height:10px;right:166.60000000000002px;transform:scaleX(0.9);transform-origin:100% 0;">217</div>
<div class="t" style="top:603px;font-size:10px;line-height:10px;right:124.39999999999998px;">U</div>
<div class="t" style="top:603px;font-size:10px;line-height:10px;right:82.0px;">-</div>
<div class="t" style="top:603px;font-size:10px;line-height:10px;right:30.100000000000023px;transform:scaleX(0.9);transform-origin:100% 0;">6</div>
<div class="t" style="top:619px;font-size:10px;line-height:10px;letter-spacing:0.3px;left:14px;transform:scaleX(1.0438);transform-origin:0 0;">MOUNTAIN</div>
<div class="t" style="top:619px;font-size:10px;line-height:10px;right:510.2px;transform:scaleX(0.9);transform-origin:100% 0;">79</div>
<div class="t" style="top:619px;font-size:10px;line-height:10px;right:449.4px;transform:scaleX(0.9);transform-origin:100% 0;">73</div>
<div class="t" style="top:619px;font-size:10px;line-height:10px;right:402.7px;">-</div>
<div class="t" style="top:619px;font-size:10px;line-height:10px;right:356.5px;transform:scaleX(0.9);transform-origin:100% 0;">9</div>
<div class="t" style="top:619px;font-size:10px;line-height:10px;right:309.9px;transform:scaleX(0.9);transform-origin:100% 0;">17</div>
<div class="t" style="top:619px;font-size:10px;line-height:10px;right:265.6px;transform:scaleX(0.9);transform-origin:100% 0;">10</div>
<div class="t" style="top:619px;font-size:10px;line-height:10px;right:218.0px;transform:scaleX(0.9);transform-origin:100% 0;">1,081</div>
<div class="t" style="top:619px;font-size:10px;line-height:10px;right:166.60000000000002px;transform:scaleX(0.9);transform-origin:100% 0;">565</div>
<div class="t" style="top:619px;font-size:10px;line-height:10px;right:124.39999999999998px;">-</div>
<div class="t" style="top:619px;font-size:10px;line-height:10px;right:82.0px;transform:scaleX(0.9);transform-origin:100% 0;">1</div>
<div class="t" style="top:619px;font-size:10px;line-height:10px;right:30.100000000000023px;transform:scaleX(0.9);transform-origin:100% 0;">2</div>
<div class="t" style="top:629px;font-size:10px;line-height:10px;letter-spacing:0.3px;left:14px;">M<span class="lc">ont</span>.</div>
<div class="t" style="top:629px;font-size:10px;line-height:10px;right:510.2px;transform:scaleX(0.9);transform-origin:100% 0;">4</div>
<div class="t" style="top:629px;font-size:10px;line-height:10px;right:449.4px;transform:scaleX(0.9);transform-origin:100% 0;">4</div>
<div class="t" style="top:629px;font-size:10px;line-height:10px;right:402.7px;">-</div>
<div class="t" style="top:629px;font-size:10px;line-height:10px;right:356.5px;transform:scaleX(0.9);transform-origin:100% 0;">1</div>
<div class="t" style="top:629px;font-size:10px;line-height:10px;right:309.9px;transform:scaleX(0.9);transform-origin:100% 0;">1</div>
<div class="t" style="top:629px;font-size:10px;line-height:10px;right:265.6px;">-</div>
<div class="t" style="top:629px;font-size:10px;line-height:10px;right:218.0px;transform:scaleX(0.9);transform-origin:100% 0;">31</div>
<div class="t" style="top:629px;font-size:10px;line-height:10px;right:166.60000000000002px;transform:scaleX(0.9);transform-origin:100% 0;">33</div>
<div class="t" style="top:629px;font-size:10px;line-height:10px;right:124.39999999999998px;">-</div>
<div class="t" style="top:629px;font-size:10px;line-height:10px;right:82.0px;">-</div>
<div class="t" style="top:629px;font-size:10px;line-height:10px;right:30.100000000000023px;">-</div>
<div class="t" style="top:639px;font-size:10px;line-height:10px;letter-spacing:0.3px;left:14px;">I<span class="lc">daho</span></div>
<div class="t" style="top:639px;font-size:10px;line-height:10px;right:510.2px;transform:scaleX(0.9);transform-origin:100% 0;">7</div>
<div class="t" style="top:639px;font-size:10px;line-height:10px;right:449.4px;transform:scaleX(0.9);transform-origin:100% 0;">6</div>
<div class="t" style="top:639px;font-size:10px;line-height:10px;right:402.7px;">-</div>
<div class="t" style="top:639px;font-size:10px;line-height:10px;right:356.5px;transform:scaleX(0.9);transform-origin:100% 0;">1</div>
<div class="t" style="top:639px;font-size:10px;line-height:10px;right:309.9px;">-</div>
<div class="t" style="top:639px;font-size:10px;line-height:10px;right:265.6px;">-</div>
<div class="t" style="top:639px;font-size:10px;line-height:10px;right:218.0px;transform:scaleX(0.9);transform-origin:100% 0;">167</div>
<div class="t" style="top:639px;font-size:10px;line-height:10px;right:166.60000000000002px;transform:scaleX(0.9);transform-origin:100% 0;">51</div>
<div class="t" style="top:639px;font-size:10px;line-height:10px;right:124.39999999999998px;">-</div>
<div class="t" style="top:639px;font-size:10px;line-height:10px;right:82.0px;">-</div>
<div class="t" style="top:639px;font-size:10px;line-height:10px;right:30.100000000000023px;">-</div>
<div class="t" style="top:649px;font-size:10px;line-height:10px;letter-spacing:0.3px;left:14px;">W<span class="lc">yo</span>.</div>
<div class="t" style="top:649px;font-size:10px;line-height:10px;right:510.2px;transform:scaleX(0.9);transform-origin:100% 0;">5</div>
<div class="t" style="top:649px;font-size:10px;line-height:10px;right:449.4px;">-</div>
<div class="t" style="top:649px;font-size:10px;line-height:10px;right:402.7px;">-</div>
<div class="t" style="top:649px;font-size:10px;line-height:10px;right:356.5px;transform:scaleX(0.9);transform-origin:100% 0;">1</div>
<div class="t" style="top:649px;font-size:10px;line-height:10px;right:309.9px;transform:scaleX(0.9);transform-origin:100% 0;">1</div>
<div class="t" style="top:649px;font-size:10px;line-height:10px;right:265.6px;">-</div>
<div class="t" style="top:649px;font-size:10px;line-height:10px;right:218.0px;transform:scaleX(0.9);transform-origin:100% 0;">1</div>
<div class="t" style="top:649px;font-size:10px;line-height:10px;right:166.60000000000002px;transform:scaleX(0.9);transform-origin:100% 0;">4</div>
<div class="t" style="top:649px;font-size:10px;line-height:10px;right:124.39999999999998px;">-</div>
<div class="t" style="top:649px;font-size:10px;line-height:10px;right:82.0px;">-</div>
<div class="t" style="top:649px;font-size:10px;line-height:10px;right:30.100000000000023px;">-</div>
<div class="t" style="top:658px;font-size:10px;line-height:10px;letter-spacing:0.3px;left:14px;">C<span class="lc">olo</span>.</div>
<div class="t" style="top:658px;font-size:10px;line-height:10px;right:510.2px;transform:scaleX(0.9);transform-origin:100% 0;">27</div>
<div class="t" style="top:658px;font-size:10px;line-height:10px;right:449.4px;transform:scaleX(0.9);transform-origin:100% 0;">25</div>
<div class="t" style="top:658px;font-size:10px;line-height:10px;right:402.7px;">-</div>
<div class="t" style="top:658px;font-size:10px;line-height:10px;right:356.5px;transform:scaleX(0.9);transform-origin:100% 0;">1</div>
<div class="t" style="top:658px;font-size:10px;line-height:10px;right:309.9px;">-</div>
<div class="t" style="top:658px;font-size:10px;line-height:10px;right:265.6px;transform:scaleX(0.9);transform-origin:100% 0;">5</div>
<div class="t" style="top:658px;font-size:10px;line-height:10px;right:218.0px;transform:scaleX(0.9);transform-origin:100% 0;">210</div>
<div class="t" style="top:658px;font-size:10px;line-height:10px;right:166.60000000000002px;transform:scaleX(0.9);transform-origin:100% 0;">310</div>
<div class="t" style="top:658px;font-size:10px;line-height:10px;right:124.39999999999998px;">-</div>
<div class="t" style="top:658px;font-size:10px;line-height:10px;right:82.0px;transform:scaleX(0.9);transform-origin:100% 0;">1</div>
<div class="t" style="top:658px;font-size:10px;line-height:10px;right:30.100000000000023px;transform:scaleX(0.9);transform-origin:100% 0;">1</div>
<div class="t" style="top:668px;font-size:10px;line-height:10px;letter-spacing:0.3px;left:14px;">N. M<span class="lc">ex</span>.</div>
<div class="t" style="top:668px;font-size:10px;line-height:10px;right:510.2px;transform:scaleX(0.9);transform-origin:100% 0;">12</div>
<div class="t" style="top:668px;font-size:10px;line-height:10px;right:449.4px;transform:scaleX(0.9);transform-origin:100% 0;">6</div>
<div class="t" style="top:668px;font-size:10px;line-height:10px;right:402.7px;">-</div>
<div class="t" style="top:668px;font-size:10px;line-height:10px;right:356.5px;transform:scaleX(0.9);transform-origin:100% 0;">2</div>
<div class="t" style="top:668px;font-size:10px;line-height:10px;right:309.9px;transform:scaleX(0.9);transform-origin:100% 0;">1</div>
<div class="t" style="top:668px;font-size:10px;line-height:10px;right:265.6px;transform:scaleX(0.9);transform-origin:100% 0;">5</div>
<div class="t" style="top:668px;font-size:10px;line-height:10px;right:218.0px;transform:scaleX(0.9);transform-origin:100% 0;">111</div>
<div class="t" style="top:668px;font-size:10px;line-height:10px;right:166.60000000000002px;transform:scaleX(0.9);transform-origin:100% 0;">79</div>
<div class="t" style="top:668px;font-size:10px;line-height:10px;right:124.39999999999998px;">-</div>
<div class="t" style="top:668px;font-size:10px;line-height:10px;right:82.0px;">-</div>
<div class="t" style="top:668px;font-size:10px;line-height:10px;right:30.100000000000023px;">-</div>
<div class="t" style="top:678px;font-size:10px;line-height:10px;letter-spacing:0.3px;left:14px;">A<span class="lc">riz</span>.</div>
<div class="t" style="top:678px;font-size:10px;line-height:10px;right:510.2px;transform:scaleX(0.9);transform-origin:100% 0;">12</div>
<div class="t" style="top:678px;font-size:10px;line-height:10px;right:449.4px;transform:scaleX(0.9);transform-origin:100% 0;">22</div>
<div class="t" style="top:678px;font-size:10px;line-height:10px;right:402.7px;">-</div>
<div class="t" style="top:678px;font-size:10px;line-height:10px;right:356.5px;transform:scaleX(0.9);transform-origin:100% 0;">1</div>
<div class="t" style="top:678px;font-size:10px;line-height:10px;right:309.9px;transform:scaleX(0.9);transform-origin:100% 0;">4</div>
<div class="t" style="top:678px;font-size:10px;line-height:10px;right:265.6px;">-</div>
<div class="t" style="top:678px;font-size:10px;line-height:10px;right:218.0px;transform:scaleX(0.9);transform-origin:100% 0;">491</div>
<div class="t" style="top:678px;font-size:10px;line-height:10px;right:166.60000000000002px;transform:scaleX(0.9);transform-origin:100% 0;">62</div>
<div class="t" style="top:678px;font-size:10px;line-height:10px;right:124.39999999999998px;">-</div>
<div class="t" style="top:678px;font-size:10px;line-height:10px;right:82.0px;">-</div>
<div class="t" style="top:678px;font-size:10px;line-height:10px;right:30.100000000000023px;transform:scaleX(0.9);transform-origin:100% 0;">1</div>
<div class="t" style="top:687px;font-size:10px;line-height:10px;letter-spacing:0.3px;left:14px;">U<span class="lc">tah</span></div>
<div class="t" style="top:687px;font-size:10px;line-height:10px;right:510.2px;transform:scaleX(0.9);transform-origin:100% 0;">7</div>
<div class="t" style="top:687px;font-size:10px;line-height:10px;right:449.4px;transform:scaleX(0.9);transform-origin:100% 0;">7</div>
<div class="t" style="top:687px;font-size:10px;line-height:10px;right:402.7px;">-</div>
<div class="t" style="top:687px;font-size:10px;line-height:10px;right:356.5px;transform:scaleX(0.9);transform-origin:100% 0;">1</div>
<div class="t" style="top:687px;font-size:10px;line-height:10px;right:309.9px;transform:scaleX(0.9);transform-origin:100% 0;">4</div>
<div class="t" style="top:687px;font-size:10px;line-height:10px;right:265.6px;">-</div>
<div class="t" style="top:687px;font-size:10px;line-height:10px;right:218.0px;transform:scaleX(0.9);transform-origin:100% 0;">59</div>
<div class="t" style="top:687px;font-size:10px;line-height:10px;right:166.60000000000002px;transform:scaleX(0.9);transform-origin:100% 0;">16</div>
<div class="t" style="top:687px;font-size:10px;line-height:10px;right:124.39999999999998px;">-</div>
<div class="t" style="top:687px;font-size:10px;line-height:10px;right:82.0px;">-</div>
<div class="t" style="top:687px;font-size:10px;line-height:10px;right:30.100000000000023px;">-</div>
<div class="t" style="top:697px;font-size:10px;line-height:10px;letter-spacing:0.3px;left:14px;">N<span class="lc">ev</span>.</div>
<div class="t" style="top:697px;font-size:10px;line-height:10px;right:510.2px;transform:scaleX(0.9);transform-origin:100% 0;">5</div>
<div class="t" style="top:697px;font-size:10px;line-height:10px;right:449.4px;transform:scaleX(0.9);transform-origin:100% 0;">3</div>
<div class="t" style="top:697px;font-size:10px;line-height:10px;right:402.7px;">U</div>
<div class="t" style="top:697px;font-size:10px;line-height:10px;right:356.5px;transform:scaleX(0.9);transform-origin:100% 0;">1</div>
<div class="t" style="top:697px;font-size:10px;line-height:10px;right:309.9px;transform:scaleX(0.9);transform-origin:100% 0;">6</div>
<div class="t" style="top:697px;font-size:10px;line-height:10px;right:265.6px;">U</div>
<div class="t" style="top:697px;font-size:10px;line-height:10px;right:218.0px;transform:scaleX(0.9);transform-origin:100% 0;">11</div>
<div class="t" style="top:697px;font-size:10px;line-height:10px;right:166.60000000000002px;transform:scaleX(0.9);transform-origin:100% 0;">10</div>
<div class="t" style="top:697px;font-size:10px;line-height:10px;right:124.39999999999998px;">U</div>
<div class="t" style="top:697px;font-size:10px;line-height:10px;right:82.0px;">-</div>
<div class="t" style="top:697px;font-size:10px;line-height:10px;right:30.100000000000023px;">-</div>
<div class="t" style="top:713px;font-size:10px;line-height:10px;letter-spacing:0.3px;left:14px;transform:scaleX(0.9143);transform-origin:0 0;">PACIFIC</div>
<div class="t" style="top:713px;font-size:10px;line-height:10px;right:510.2px;transform:scaleX(0.9);transform-origin:100% 0;">369</div>
<div class="t" style="top:713px;font-size:10px;line-height:10px;right:449.4px;transform:scaleX(0.9);transform-origin:100% 0;">375</div>
<div class="t" style="top:713px;font-size:10px;line-height:10px;right:402.7px;">-</div>
<div class="t" style="top:713px;font-size:10px;line-height:10px;right:356.5px;transform:scaleX(0.9);transform-origin:100% 0;">67</div>
<div class="t" style="top:713px;font-size:10px;line-height:10px;right:309.9px;transform:scaleX(0.9);transform-origin:100% 0;">117</div>
<div class="t" style="top:713px;font-size:10px;line-height:10px;right:265.6px;transform:scaleX(0.9);transform-origin:100% 0;">5</div>
<div class="t" style="top:713px;font-size:10px;line-height:10px;right:218.0px;transform:scaleX(0.9);transform-origin:100% 0;">482</div>
<div class="t" style="top:713px;font-size:10px;line-height:10px;right:166.60000000000002px;transform:scaleX(0.9);transform-origin:100% 0;">888</div>
<div class="t" style="top:713px;font-size:10px;line-height:10px;right:124.39999999999998px;">-</div>
<div class="t" style="top:713px;font-size:10px;line-height:10px;right:82.0px;transform:scaleX(0.9);transform-origin:100% 0;">1</div>
<div class="t" style="top:713px;font-size:10px;line-height:10px;right:30.100000000000023px;transform:scaleX(0.9);transform-origin:100% 0;">12</div>
<div class="t" style="top:723px;font-size:10px;line-height:10px;letter-spacing:0.3px;left:14px;">W<span class="lc">ash</span>.</div>
<div class="t" style="top:723px;font-size:10px;line-height:10px;right:510.2px;transform:scaleX(0.9);transform-origin:100% 0;">53</div>
<div class="t" style="top:723px;font-size:10px;line-height:10px;right:449.4px;transform:scaleX(0.9);transform-origin:100% 0;">40</div>
<div class="t" style="top:723px;font-size:10px;line-height:10px;right:402.7px;">U</div>
<div class="t" style="top:723px;font-size:10px;line-height:10px;right:356.5px;transform:scaleX(0.9);transform-origin:100% 0;">1</div>
<div class="t" style="top:723px;font-size:10px;line-height:10px;right:309.9px;transform:scaleX(0.9);transform-origin:100% 0;">9</div>
<div class="t" style="top:723px;font-size:10px;line-height:10px;right:265.6px;">U</div>
<div class="t" style="top:723px;font-size:10px;line-height:10px;right:218.0px;transform:scaleX(0.9);transform-origin:100% 0;">110</div>
<div class="t" style="top:723px;font-size:10px;line-height:10px;right:166.60000000000002px;transform:scaleX(0.9);transform-origin:100% 0;">282</div>
<div class="t" style="top:723px;font-size:10px;line-height:10px;right:124.39999999999998px;">U</div>
<div class="t" style="top:723px;font-size:10px;line-height:10px;right:82.0px;">-</div>
<div class="t" style="top:723px;font-size:10px;line-height:10px;right:30.100000000000023px;transform:scaleX(0.9);transform-origin:100% 0;">7</div>
<div class="t" style="top:733px;font-size:10px;line-height:10px;letter-spacing:0.3px;left:14px;">O<span class="lc">reg</span>.</div>
<div class="t" style="top:733px;font-size:10px;line-height:10px;right:510.2px;transform:scaleX(0.9);transform-origin:100% 0;">32</div>
<div class="t" style="top:733px;font-size:10px;line-height:10px;right:449.4px;transform:scaleX(0.9);transform-origin:100% 0;">51</div>
<div class="t" style="top:733px;font-size:10px;line-height:10px;right:402.7px;">N</div>
<div class="t" style="top:733px;font-size:10px;line-height:10px;right:356.5px;">N</div>
<div class="t" style="top:733px;font-size:10px;line-height:10px;right:309.9px;">N</div>
<div class="t" style="top:733px;font-size:10px;line-height:10px;right:265.6px;transform:scaleX(0.9);transform-origin:100% 0;">5</div>
<div class="t" style="top:733px;font-size:10px;line-height:10px;right:218.0px;transform:scaleX(0.9);transform-origin:100% 0;">42</div>
<div class="t" style="top:733px;font-size:10px;line-height:10px;right:166.60000000000002px;transform:scaleX(0.9);transform-origin:100% 0;">95</div>
<div class="t" style="top:733px;font-size:10px;line-height:10px;right:124.39999999999998px;">-</div>
<div class="t" style="top:733px;font-size:10px;line-height:10px;right:82.0px;">-</div>
<div class="t" style="top:733px;font-size:10px;line-height:10px;right:30.100000000000023px;">-</div>
<div class="t" style="top:743px;font-size:10px;line-height:10px;letter-spacing:0.3px;left:14px;">C<span class="lc">alif</span>.</div>
<div class="t" style="top:743px;font-size:10px;line-height:10px;right:510.2px;transform:scaleX(0.9);transform-origin:100% 0;">271</div>
<div class="t" style="top:743px;font-size:10px;line-height:10px;right:449.4px;transform:scaleX(0.9);transform-origin:100% 0;">268</div>
<div class="t" style="top:743px;font-size:10px;line-height:10px;right:402.7px;">-</div>
<div class="t" style="top:743px;font-size:10px;line-height:10px;right:356.5px;transform:scaleX(0.9);transform-origin:100% 0;">30</div>
<div class="t" style="top:743px;font-size:10px;line-height:10px;right:309.9px;transform:scaleX(0.9);transform-origin:100% 0;">80</div>
<div class="t" style="top:743px;font-size:10px;line-height:10px;right:265.6px;">-</div>
<div class="t" style="top:743px;font-size:10px;line-height:10px;right:218.0px;transform:scaleX(0.9);transform-origin:100% 0;">298</div>
<div class="t" style="top:743px;font-size:10px;line-height:10px;right:166.60000000000002px;transform:scaleX(0.9);transform-origin:100% 0;">461</div>
<div class="t" style="top:743px;font-size:10px;line-height:10px;right:124.39999999999998px;">-</div>
<div class="t" style="top:743px;font-size:10px;line-height:10px;right:82.0px;">-</div>
<div class="t" style="top:743px;font-size:10px;line-height:10px;right:30.100000000000023px;transform:scaleX(0.9);transform-origin:100% 0;">5</div>
<div class="t" style="top:752px;font-size:10px;line-height:10px;letter-spacing:0.3px;left:14px;">A<span class="lc">laska</span></div>
<div class="t" style="top:752px;font-size:10px;line-height:10px;right:510.2px;transform:scaleX(0.9);transform-origin:100% 0;">2</div>
<div class="t" style="top:752px;font-size:10px;line-height:10px;right:449.4px;transform:scaleX(0.9);transform-origin:100% 0;">8</div>
<div class="t" style="top:752px;font-size:10px;line-height:10px;right:402.7px;">-</div>
<div class="t" style="top:752px;font-size:10px;line-height:10px;right:356.5px;transform:scaleX(0.9);transform-origin:100% 0;">1</div>
<div class="t" style="top:752px;font-size:10px;line-height:10px;right:309.9px;transform:scaleX(0.9);transform-origin:100% 0;">8</div>
<div class="t" style="top:752px;font-size:10px;line-height:10px;right:265.6px;">-</div>
<div class="t" style="top:752px;font-size:10px;line-height:10px;right:218.0px;transform:scaleX(0.9);transform-origin:100% 0;">3</div>
<div class="t" style="top:752px;font-size:10px;line-height:10px;right:166.60000000000002px;transform:scaleX(0.9);transform-origin:100% 0;">18</div>
<div class="t" style="top:752px;font-size:10px;line-height:10px;right:124.39999999999998px;">-</div>
<div class="t" style="top:752px;font-size:10px;line-height:10px;right:82.0px;">-</div>
<div class="t" style="top:752px;font-size:10px;line-height:10px;right:30.100000000000023px;">-</div>
<div class="t" style="top:762px;font-size:10px;line-height:10px;letter-spacing:0.3px;left:14px;transform:scaleX(1.0328);transform-origin:0 0;">H<span class="lc">awaii</span></div>
<div class="t" style="top:762px;font-size:10px;line-height:10px;right:510.2px;transform:scaleX(0.9);transform-origin:100% 0;">11</div>
<div class="t" style="top:762px;font-size:10px;line-height:10px;right:449.4px;transform:scaleX(0.9);transform-origin:100% 0;">8</div>
<div class="t" style="top:762px;font-size:10px;line-height:10px;right:402.7px;">-</div>
<div class="t" style="top:762px;font-size:10px;line-height:10px;right:356.5px;transform:scaleX(0.9);transform-origin:100% 0;">35</div>
<div class="t" style="top:762px;font-size:10px;line-height:10px;right:309.9px;transform:scaleX(0.9);transform-origin:100% 0;">20</div>
<div class="t" style="top:762px;font-size:10px;line-height:10px;right:265.6px;">-</div>
<div class="t" style="top:762px;font-size:10px;line-height:10px;right:218.0px;transform:scaleX(0.9);transform-origin:100% 0;">29</div>
<div class="t" style="top:762px;font-size:10px;line-height:10px;right:166.60000000000002px;transform:scaleX(0.9);transform-origin:100% 0;">32</div>
<div class="t" style="top:762px;font-size:10px;line-height:10px;right:124.39999999999998px;">-</div>
<div class="t" style="top:762px;font-size:10px;line-height:10px;right:82.0px;transform:scaleX(0.9);transform-origin:100% 0;">1</div>
<div class="t" style="top:762px;font-size:10px;line-height:10px;right:30.100000000000023px;">-</div>
<div class="t" style="top:778px;font-size:10px;line-height:10px;letter-spacing:0.3px;left:14px;">G<span class="lc">uam</span></div>
<div class="t" style="top:778px;font-size:10px;line-height:10px;right:510.2px;">-</div>
<div class="t" style="top:778px;font-size:10px;line-height:10px;right:449.4px;">-</div>
<div class="t" style="top:778px;font-size:10px;line-height:10px;right:402.7px;">U</div>
<div class="t" style="top:778px;font-size:10px;line-height:10px;right:356.5px;">-</div>
<div class="t" style="top:778px;font-size:10px;line-height:10px;right:309.9px;transform:scaleX(0.9);transform-origin:100% 0;">12</div>
<div class="t" style="top:778px;font-size:10px;line-height:10px;right:265.6px;">U</div>
<div class="t" style="top:778px;font-size:10px;line-height:10px;right:218.0px;">-</div>
<div class="t" style="top:778px;font-size:10px;line-height:10px;right:166.60000000000002px;transform:scaleX(0.9);transform-origin:100% 0;">3</div>
<div class="t" style="top:778px;font-size:10px;line-height:10px;right:124.39999999999998px;">U</div>
<div class="t" style="top:778px;font-size:10px;line-height:10px;right:82.0px;">-</div>
<div class="t" style="top:778px;font-size:10px;line-height:10px;right:30.100000000000023px;transform:scaleX(0.9);transform-origin:100% 0;">1</div>
<div class="t" style="top:788px;font-size:10px;line-height:10px;letter-spacing:0.3px;left:14px;">P.R.</div>
<div class="t" style="top:788px;font-size:10px;line-height:10px;right:510.2px;transform:scaleX(0.9);transform-origin:100% 0;">4</div>
<div class="t" style="top:788px;font-size:10px;line-height:10px;right:449.4px;transform:scaleX(0.9);transform-origin:100% 0;">8</div>
<div class="t" style="top:788px;font-size:10px;line-height:10px;right:402.7px;">-</div>
<div class="t" style="top:788px;font-size:10px;line-height:10px;right:356.5px;">-</div>
<div class="t" style="top:788px;font-size:10px;line-height:10px;right:309.9px;">-</div>
<div class="t" style="top:788px;font-size:10px;line-height:10px;right:265.6px;">-</div>
<div class="t" style="top:788px;font-size:10px;line-height:10px;right:218.0px;transform:scaleX(0.9);transform-origin:100% 0;">2</div>
<div class="t" style="top:788px;font-size:10px;line-height:10px;right:166.60000000000002px;transform:scaleX(0.9);transform-origin:100% 0;">6</div>
<div class="t" style="top:788px;font-size:10px;line-height:10px;right:124.39999999999998px;">-</div>
<div class="t" style="top:788px;font-size:10px;line-height:10px;right:82.0px;">-</div>
<div class="t" style="top:788px;font-size:10px;line-height:10px;right:30.100000000000023px;">-</div>
<div class="t" style="top:798px;font-size:10px;line-height:10px;letter-spacing:0.3px;left:14px;">V.I.</div>
<div class="t" style="top:798px;font-size:10px;line-height:10px;right:510.2px;">-</div>
<div class="t" style="top:798px;font-size:10px;line-height:10px;right:449.4px;">-</div>
<div class="t" style="top:798px;font-size:10px;line-height:10px;right:402.7px;">U</div>
<div class="t" style="top:798px;font-size:10px;line-height:10px;right:356.5px;">-</div>
<div class="t" style="top:798px;font-size:10px;line-height:10px;right:309.9px;">-</div>
<div class="t" style="top:798px;font-size:10px;line-height:10px;right:265.6px;">U</div>
<div class="t" style="top:798px;font-size:10px;line-height:10px;right:218.0px;">-</div>
<div class="t" style="top:798px;font-size:10px;line-height:10px;right:166.60000000000002px;">-</div>
<div class="t" style="top:798px;font-size:10px;line-height:10px;right:124.39999999999998px;">U</div>
<div class="t" style="top:798px;font-size:10px;line-height:10px;right:82.0px;">-</div>
<div class="t" style="top:798px;font-size:10px;line-height:10px;right:30.100000000000023px;">-</div>
<div class="t" style="top:807px;font-size:10px;line-height:10px;letter-spacing:0.3px;left:14px;">A<span class="lc">mer</span>. S<span class="lc">amoa</span></div>
<div class="t" style="top:807px;font-size:10px;line-height:10px;right:510.2px;">U</div>
<div class="t" style="top:807px;font-size:10px;line-height:10px;right:449.4px;">U</div>
<div class="t" style="top:807px;font-size:10px;line-height:10px;right:402.7px;">U</div>
<div class="t" style="top:807px;font-size:10px;line-height:10px;right:356.5px;">U</div>
<div class="t" style="top:807px;font-size:10px;line-height:10px;right:309.9px;">U</div>
<div class="t" style="top:807px;font-size:10px;line-height:10px;right:265.6px;">U</div>
<div class="t" style="top:807px;font-size:10px;line-height:10px;right:218.0px;">U</div>
<div class="t" style="top:807px;font-size:10px;line-height:10px;right:166.60000000000002px;">U</div>
<div class="t" style="top:807px;font-size:10px;line-height:10px;right:124.39999999999998px;">U</div>
<div class="t" style="top:807px;font-size:10px;line-height:10px;right:82.0px;">U</div>
<div class="t" style="top:807px;font-size:10px;line-height:10px;right:30.100000000000023px;">U</div>
<div class="t" style="top:817px;font-size:10px;line-height:10px;letter-spacing:0.3px;left:14px;">C.N.M.I.</div>
<div class="t" style="top:817px;font-size:10px;line-height:10px;right:510.2px;">-</div>
<div class="t" style="top:817px;font-size:10px;line-height:10px;right:449.4px;">U</div>
<div class="t" style="top:817px;font-size:10px;line-height:10px;right:402.7px;">U</div>
<div class="t" style="top:817px;font-size:10px;line-height:10px;right:356.5px;">-</div>
<div class="t" style="top:817px;font-size:10px;line-height:10px;right:309.9px;">U</div>
<div class="t" style="top:817px;font-size:10px;line-height:10px;right:265.6px;">U</div>
<div class="t" style="top:817px;font-size:10px;line-height:10px;right:218.0px;">-</div>
<div class="t" style="top:817px;font-size:10px;line-height:10px;right:166.60000000000002px;">U</div>
<div class="t" style="top:817px;font-size:10px;line-height:10px;right:124.39999999999998px;">U</div>
<div class="t" style="top:817px;font-size:10px;line-height:10px;right:82.0px;">-</div>
<div class="t" style="top:817px;font-size:10px;line-height:10px;right:30.100000000000023px;">U</div>
<div class="r" style="left:13px;top:825px;width:621px;height:3px"></div>
<div class="t" style="top:831px;font-size:9.85px;line-height:9.85px;letter-spacing:0.19px;left:15px;">N: Not notifiable.</div>
<div class="t" style="top:831px;font-size:9.85px;line-height:9.85px;letter-spacing:-0.05px;left:132px;">U: Unavailable.</div>
<div class="t" style="top:831px;font-size:9.85px;line-height:9.85px;left:248px;">- : No reported cases.</div>
<div class="t" style="top:841px;font-size:9.85px;line-height:9.85px;left:15.5px;">*</div>
<div class="t" style="top:841px;font-size:9.85px;line-height:9.85px;left:22.3px;">Incidence data for reporting year 2001 are provisional and cumulative (year-to-date). Incidence data for reporting year 2000 are finalized and</div>
<div class="t" style="top:851px;font-size:9.85px;line-height:9.85px;left:22.3px;">cumulative (year-to-date).</div>
</body></html>
